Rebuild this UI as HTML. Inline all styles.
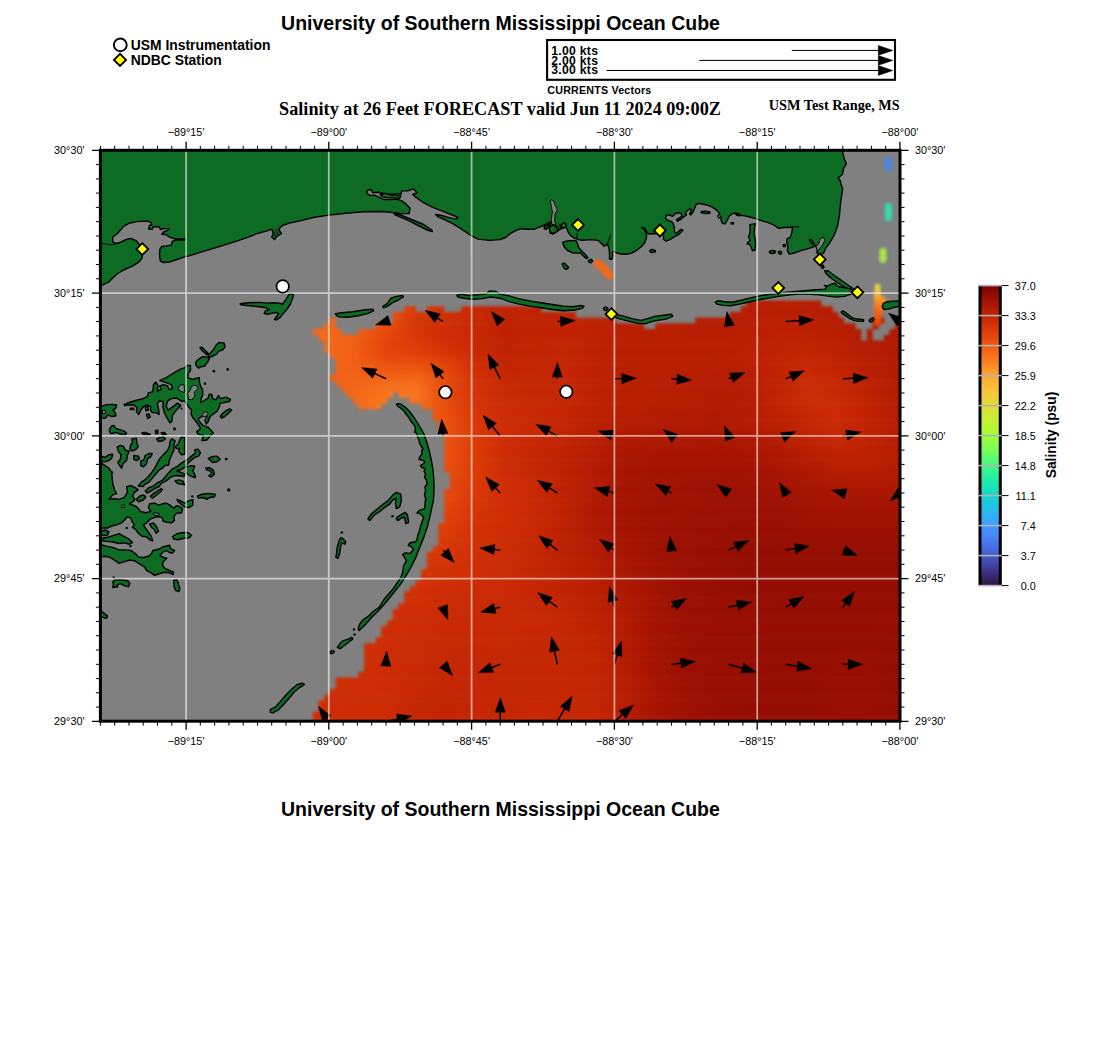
<!DOCTYPE html>
<html lang="en"><head><meta charset="utf-8"><title>University of Southern Mississippi Ocean Cube</title>
<style>
html,body{margin:0;padding:0;background:#fff;}
body{width:1100px;height:1050px;overflow:hidden;position:relative;font-family:"Liberation Sans",sans-serif;}
svg{position:absolute;left:0;top:0;}
text{font-family:"Liberation Sans",sans-serif;fill:#000;}
.b{font-weight:bold;}
.t{font-family:"Liberation Serif",serif;font-weight:bold;}
.tk{font-size:10.8px;}
</style></head><body>
<svg width="1100" height="1050" viewBox="0 0 1100 1050">
<defs>
<clipPath id="mapclip"><rect x="100.4" y="150.3" width="799.6" height="570.9"/></clipPath>
<filter id="blur2" x="-5%" y="-5%" width="110%" height="110%" color-interpolation-filters="sRGB"><feGaussianBlur stdDeviation="1.7"/></filter>
<filter id="blurs" x="-40%" y="-40%" width="180%" height="180%" color-interpolation-filters="sRGB"><feGaussianBlur stdDeviation="1.6"/></filter>
<filter id="blur4" x="-30%" y="-30%" width="160%" height="160%"><feGaussianBlur stdDeviation="3"/></filter>
<filter id="vblur" filterUnits="userSpaceOnUse" x="280" y="260" width="640" height="500" color-interpolation-filters="sRGB"><feGaussianBlur stdDeviation="0 4.5"/></filter>
<filter id="blur1" x="-10%" y="-10%" width="120%" height="120%"><feGaussianBlur stdDeviation="0.45"/></filter>

<mask id="hm" maskUnits="userSpaceOnUse" x="90" y="140" width="830" height="600"><g fill="#fff" filter="url(#blur2)"><rect x="746.7" y="300.5" width="74.5" height="6.0"/><rect x="404.1" y="306.2" width="11.7" height="6.0"/><rect x="426.9" y="306.2" width="17.4" height="6.0"/><rect x="461.2" y="306.2" width="80.3" height="6.0"/><rect x="741.0" y="306.2" width="91.7" height="6.0"/><rect x="392.7" y="311.9" width="183.1" height="6.0"/><rect x="729.6" y="311.9" width="108.8" height="6.0"/><rect x="329.8" y="317.6" width="6.0" height="6.0"/><rect x="392.7" y="317.6" width="223.0" height="6.0"/><rect x="695.3" y="317.6" width="148.8" height="6.0"/><rect x="872.4" y="317.6" width="11.7" height="6.0"/><rect x="324.1" y="323.3" width="11.7" height="6.0"/><rect x="375.5" y="323.3" width="268.7" height="6.0"/><rect x="655.4" y="323.3" width="200.2" height="6.0"/><rect x="872.4" y="323.3" width="6.0" height="6.0"/><rect x="895.2" y="323.3" width="6.0" height="6.0"/><rect x="312.7" y="329.0" width="28.9" height="6.0"/><rect x="358.4" y="329.0" width="502.9" height="6.0"/><rect x="866.7" y="329.0" width="6.0" height="6.0"/><rect x="889.5" y="329.0" width="11.7" height="6.0"/><rect x="318.4" y="334.8" width="542.8" height="6.0"/><rect x="866.7" y="334.8" width="6.0" height="6.0"/><rect x="883.8" y="334.8" width="17.4" height="6.0"/><rect x="324.1" y="340.5" width="577.1" height="6.0"/><rect x="324.1" y="346.2" width="577.1" height="6.0"/><rect x="329.8" y="351.9" width="571.4" height="6.0"/><rect x="335.6" y="357.6" width="565.7" height="6.0"/><rect x="335.6" y="363.3" width="565.7" height="6.0"/><rect x="335.6" y="369.0" width="565.7" height="6.0"/><rect x="329.8" y="374.7" width="571.4" height="6.0"/><rect x="335.6" y="380.4" width="565.7" height="6.0"/><rect x="341.3" y="386.2" width="560.0" height="6.0"/><rect x="347.0" y="391.9" width="46.0" height="6.0"/><rect x="398.4" y="391.9" width="502.9" height="6.0"/><rect x="352.7" y="397.6" width="34.6" height="6.0"/><rect x="409.8" y="397.6" width="491.4" height="6.0"/><rect x="358.4" y="403.3" width="23.1" height="6.0"/><rect x="421.2" y="403.3" width="480.0" height="6.0"/><rect x="432.6" y="409.0" width="468.6" height="6.0"/><rect x="432.6" y="414.7" width="468.6" height="6.0"/><rect x="438.3" y="420.4" width="462.9" height="6.0"/><rect x="438.3" y="426.1" width="462.9" height="6.0"/><rect x="444.1" y="431.8" width="457.2" height="6.0"/><rect x="444.1" y="437.6" width="457.2" height="6.0"/><rect x="444.1" y="443.3" width="457.2" height="6.0"/><rect x="444.1" y="449.0" width="457.2" height="6.0"/><rect x="444.1" y="454.7" width="457.2" height="6.0"/><rect x="444.1" y="460.4" width="457.2" height="6.0"/><rect x="444.1" y="466.1" width="457.2" height="6.0"/><rect x="449.8" y="471.8" width="451.5" height="6.0"/><rect x="449.8" y="477.5" width="451.5" height="6.0"/><rect x="449.8" y="483.2" width="451.5" height="6.0"/><rect x="444.1" y="488.9" width="457.2" height="6.0"/><rect x="444.1" y="494.7" width="457.2" height="6.0"/><rect x="444.1" y="500.4" width="457.2" height="6.0"/><rect x="444.1" y="506.1" width="457.2" height="6.0"/><rect x="444.1" y="511.8" width="457.2" height="6.0"/><rect x="444.1" y="517.5" width="457.2" height="6.0"/><rect x="438.3" y="523.2" width="462.9" height="6.0"/><rect x="438.3" y="528.9" width="462.9" height="6.0"/><rect x="438.3" y="534.6" width="462.9" height="6.0"/><rect x="438.3" y="540.3" width="462.9" height="6.0"/><rect x="432.6" y="546.1" width="468.6" height="6.0"/><rect x="426.9" y="551.8" width="474.3" height="6.0"/><rect x="426.9" y="557.5" width="474.3" height="6.0"/><rect x="426.9" y="563.2" width="474.3" height="6.0"/><rect x="421.2" y="568.9" width="480.0" height="6.0"/><rect x="421.2" y="574.6" width="480.0" height="6.0"/><rect x="415.5" y="580.3" width="485.7" height="6.0"/><rect x="409.8" y="586.0" width="491.4" height="6.0"/><rect x="404.1" y="591.7" width="497.2" height="6.0"/><rect x="404.1" y="597.5" width="497.2" height="6.0"/><rect x="398.4" y="603.2" width="502.9" height="6.0"/><rect x="392.7" y="608.9" width="508.6" height="6.0"/><rect x="392.7" y="614.6" width="508.6" height="6.0"/><rect x="387.0" y="620.3" width="514.3" height="6.0"/><rect x="381.2" y="626.0" width="520.0" height="6.0"/><rect x="381.2" y="631.7" width="520.0" height="6.0"/><rect x="375.5" y="637.4" width="525.7" height="6.0"/><rect x="364.1" y="643.1" width="537.1" height="6.0"/><rect x="364.1" y="648.9" width="537.1" height="6.0"/><rect x="364.1" y="654.6" width="537.1" height="6.0"/><rect x="364.1" y="660.3" width="537.1" height="6.0"/><rect x="364.1" y="666.0" width="537.1" height="6.0"/><rect x="358.4" y="671.7" width="542.8" height="6.0"/><rect x="335.6" y="677.4" width="565.7" height="6.0"/><rect x="335.6" y="683.1" width="565.7" height="6.0"/><rect x="329.8" y="688.8" width="571.4" height="6.0"/><rect x="324.1" y="694.5" width="577.1" height="6.0"/><rect x="318.4" y="700.3" width="582.8" height="6.0"/><rect x="318.4" y="706.0" width="582.8" height="6.0"/><rect x="312.7" y="711.7" width="588.5" height="6.0"/><rect x="312.7" y="717.4" width="588.5" height="6.0"/></g></mask>

<linearGradient id="cbar" x1="0" y1="1" x2="0" y2="0"><stop offset="0.000" stop-color="#30123b"/><stop offset="0.025" stop-color="#372466"/><stop offset="0.050" stop-color="#3d358b"/><stop offset="0.075" stop-color="#4249b1"/><stop offset="0.100" stop-color="#4559cb"/><stop offset="0.125" stop-color="#466be3"/><stop offset="0.150" stop-color="#477bf2"/><stop offset="0.175" stop-color="#458afc"/><stop offset="0.200" stop-color="#3e9bfe"/><stop offset="0.225" stop-color="#35abf8"/><stop offset="0.250" stop-color="#28bceb"/><stop offset="0.275" stop-color="#1fc9dd"/><stop offset="0.300" stop-color="#19d5cd"/><stop offset="0.325" stop-color="#19e2bb"/><stop offset="0.350" stop-color="#20eaac"/><stop offset="0.375" stop-color="#32f298"/><stop offset="0.400" stop-color="#46f884"/><stop offset="0.425" stop-color="#5dfc6f"/><stop offset="0.450" stop-color="#79fe59"/><stop offset="0.475" stop-color="#8fff49"/><stop offset="0.500" stop-color="#a4fc3c"/><stop offset="0.525" stop-color="#b4f836"/><stop offset="0.550" stop-color="#c3f134"/><stop offset="0.575" stop-color="#d4e735"/><stop offset="0.600" stop-color="#e1dd37"/><stop offset="0.625" stop-color="#eecf3a"/><stop offset="0.650" stop-color="#f6c33a"/><stop offset="0.675" stop-color="#fbb637"/><stop offset="0.700" stop-color="#fea431"/><stop offset="0.725" stop-color="#fe932a"/><stop offset="0.750" stop-color="#fb7e21"/><stop offset="0.775" stop-color="#f66c19"/><stop offset="0.800" stop-color="#f05b12"/><stop offset="0.825" stop-color="#e7490c"/><stop offset="0.850" stop-color="#dd3d08"/><stop offset="0.875" stop-color="#d02f05"/><stop offset="0.900" stop-color="#c32503"/><stop offset="0.925" stop-color="#b41b01"/><stop offset="0.950" stop-color="#a11201"/><stop offset="0.975" stop-color="#8e0a01"/><stop offset="1.000" stop-color="#7a0403"/></linearGradient>
<linearGradient id="hr0" gradientUnits="userSpaceOnUse" x1="296" y1="0" x2="906" y2="0"><stop offset="0.000" stop-color="#f26014"/><stop offset="0.049" stop-color="#f15d13"/><stop offset="0.098" stop-color="#f15d13"/><stop offset="0.148" stop-color="#ec530f"/><stop offset="0.197" stop-color="#df3f08"/><stop offset="0.246" stop-color="#d43305"/><stop offset="0.295" stop-color="#cc2b04"/><stop offset="0.344" stop-color="#c52603"/><stop offset="0.393" stop-color="#c32503"/><stop offset="0.443" stop-color="#c12302"/><stop offset="0.492" stop-color="#be2102"/><stop offset="0.541" stop-color="#b91e02"/><stop offset="0.590" stop-color="#b71d02"/><stop offset="0.639" stop-color="#b71d02"/><stop offset="0.689" stop-color="#b71d02"/><stop offset="0.738" stop-color="#b71d02"/><stop offset="0.787" stop-color="#b91e02"/><stop offset="0.836" stop-color="#b91e02"/><stop offset="0.885" stop-color="#b41b01"/><stop offset="0.934" stop-color="#b21a01"/><stop offset="0.984" stop-color="#af1801"/><stop offset="1.000" stop-color="#af1801"/></linearGradient>
<linearGradient id="hr1" gradientUnits="userSpaceOnUse" x1="296" y1="0" x2="906" y2="0"><stop offset="0.000" stop-color="#f26014"/><stop offset="0.049" stop-color="#f26014"/><stop offset="0.098" stop-color="#f26014"/><stop offset="0.148" stop-color="#ec530f"/><stop offset="0.197" stop-color="#df3f08"/><stop offset="0.246" stop-color="#d43305"/><stop offset="0.295" stop-color="#ca2a04"/><stop offset="0.344" stop-color="#c32503"/><stop offset="0.393" stop-color="#c12302"/><stop offset="0.443" stop-color="#c12302"/><stop offset="0.492" stop-color="#bc2002"/><stop offset="0.541" stop-color="#b91e02"/><stop offset="0.590" stop-color="#b71d02"/><stop offset="0.639" stop-color="#b71d02"/><stop offset="0.689" stop-color="#b71d02"/><stop offset="0.738" stop-color="#b71d02"/><stop offset="0.787" stop-color="#b91e02"/><stop offset="0.836" stop-color="#b91e02"/><stop offset="0.885" stop-color="#b41b01"/><stop offset="0.934" stop-color="#af1801"/><stop offset="0.984" stop-color="#af1801"/><stop offset="1.000" stop-color="#af1801"/></linearGradient>
<linearGradient id="hr2" gradientUnits="userSpaceOnUse" x1="296" y1="0" x2="906" y2="0"><stop offset="0.000" stop-color="#f26014"/><stop offset="0.049" stop-color="#f26014"/><stop offset="0.098" stop-color="#f26014"/><stop offset="0.148" stop-color="#ed5510"/><stop offset="0.197" stop-color="#dc3b07"/><stop offset="0.246" stop-color="#d23105"/><stop offset="0.295" stop-color="#ca2a04"/><stop offset="0.344" stop-color="#c32503"/><stop offset="0.393" stop-color="#c12302"/><stop offset="0.443" stop-color="#c12302"/><stop offset="0.492" stop-color="#bc2002"/><stop offset="0.541" stop-color="#b91e02"/><stop offset="0.590" stop-color="#b71d02"/><stop offset="0.639" stop-color="#b71d02"/><stop offset="0.689" stop-color="#b71d02"/><stop offset="0.738" stop-color="#b71d02"/><stop offset="0.787" stop-color="#b91e02"/><stop offset="0.836" stop-color="#b91e02"/><stop offset="0.885" stop-color="#b41b01"/><stop offset="0.934" stop-color="#af1801"/><stop offset="0.984" stop-color="#af1801"/><stop offset="1.000" stop-color="#af1801"/></linearGradient>
<linearGradient id="hr3" gradientUnits="userSpaceOnUse" x1="296" y1="0" x2="906" y2="0"><stop offset="0.000" stop-color="#f36315"/><stop offset="0.049" stop-color="#f36315"/><stop offset="0.098" stop-color="#f36315"/><stop offset="0.148" stop-color="#ed5510"/><stop offset="0.197" stop-color="#da3907"/><stop offset="0.246" stop-color="#d23105"/><stop offset="0.295" stop-color="#c82803"/><stop offset="0.344" stop-color="#c12302"/><stop offset="0.393" stop-color="#c12302"/><stop offset="0.443" stop-color="#c12302"/><stop offset="0.492" stop-color="#bc2002"/><stop offset="0.541" stop-color="#b91e02"/><stop offset="0.590" stop-color="#b71d02"/><stop offset="0.639" stop-color="#b71d02"/><stop offset="0.689" stop-color="#b71d02"/><stop offset="0.738" stop-color="#b71d02"/><stop offset="0.787" stop-color="#b91e02"/><stop offset="0.836" stop-color="#b91e02"/><stop offset="0.885" stop-color="#b41b01"/><stop offset="0.934" stop-color="#af1801"/><stop offset="0.984" stop-color="#af1801"/><stop offset="1.000" stop-color="#af1801"/></linearGradient>
<linearGradient id="hr4" gradientUnits="userSpaceOnUse" x1="296" y1="0" x2="906" y2="0"><stop offset="0.000" stop-color="#f46617"/><stop offset="0.049" stop-color="#f46617"/><stop offset="0.098" stop-color="#f26014"/><stop offset="0.148" stop-color="#ed5510"/><stop offset="0.197" stop-color="#d83706"/><stop offset="0.246" stop-color="#d02f05"/><stop offset="0.295" stop-color="#c82803"/><stop offset="0.344" stop-color="#c12302"/><stop offset="0.393" stop-color="#c12302"/><stop offset="0.443" stop-color="#c12302"/><stop offset="0.492" stop-color="#bc2002"/><stop offset="0.541" stop-color="#b91e02"/><stop offset="0.590" stop-color="#b71d02"/><stop offset="0.639" stop-color="#b71d02"/><stop offset="0.689" stop-color="#b71d02"/><stop offset="0.738" stop-color="#b71d02"/><stop offset="0.787" stop-color="#b91e02"/><stop offset="0.836" stop-color="#b91e02"/><stop offset="0.885" stop-color="#b41b01"/><stop offset="0.934" stop-color="#af1801"/><stop offset="0.984" stop-color="#af1801"/><stop offset="1.000" stop-color="#af1801"/></linearGradient>
<linearGradient id="hr5" gradientUnits="userSpaceOnUse" x1="296" y1="0" x2="906" y2="0"><stop offset="0.000" stop-color="#f56918"/><stop offset="0.049" stop-color="#f46617"/><stop offset="0.098" stop-color="#f26014"/><stop offset="0.148" stop-color="#eb500e"/><stop offset="0.197" stop-color="#d63506"/><stop offset="0.246" stop-color="#d02f05"/><stop offset="0.295" stop-color="#c82803"/><stop offset="0.344" stop-color="#be2102"/><stop offset="0.393" stop-color="#c12302"/><stop offset="0.443" stop-color="#c12302"/><stop offset="0.492" stop-color="#be2102"/><stop offset="0.541" stop-color="#b91e02"/><stop offset="0.590" stop-color="#b71d02"/><stop offset="0.639" stop-color="#b71d02"/><stop offset="0.689" stop-color="#b71d02"/><stop offset="0.738" stop-color="#b71d02"/><stop offset="0.787" stop-color="#bc2002"/><stop offset="0.836" stop-color="#b91e02"/><stop offset="0.885" stop-color="#b71d02"/><stop offset="0.934" stop-color="#af1801"/><stop offset="0.984" stop-color="#af1801"/><stop offset="1.000" stop-color="#af1801"/></linearGradient>
<linearGradient id="hr6" gradientUnits="userSpaceOnUse" x1="296" y1="0" x2="906" y2="0"><stop offset="0.000" stop-color="#f56918"/><stop offset="0.049" stop-color="#f56918"/><stop offset="0.098" stop-color="#f26014"/><stop offset="0.148" stop-color="#e84b0c"/><stop offset="0.197" stop-color="#d63506"/><stop offset="0.246" stop-color="#ce2d04"/><stop offset="0.295" stop-color="#c82803"/><stop offset="0.344" stop-color="#be2102"/><stop offset="0.393" stop-color="#c12302"/><stop offset="0.443" stop-color="#c12302"/><stop offset="0.492" stop-color="#be2102"/><stop offset="0.541" stop-color="#b91e02"/><stop offset="0.590" stop-color="#b91e02"/><stop offset="0.639" stop-color="#b71d02"/><stop offset="0.689" stop-color="#b71d02"/><stop offset="0.738" stop-color="#b91e02"/><stop offset="0.787" stop-color="#bc2002"/><stop offset="0.836" stop-color="#bc2002"/><stop offset="0.885" stop-color="#b71d02"/><stop offset="0.934" stop-color="#b21a01"/><stop offset="0.984" stop-color="#af1801"/><stop offset="1.000" stop-color="#af1801"/></linearGradient>
<linearGradient id="hr7" gradientUnits="userSpaceOnUse" x1="296" y1="0" x2="906" y2="0"><stop offset="0.000" stop-color="#f56918"/><stop offset="0.049" stop-color="#f56918"/><stop offset="0.098" stop-color="#f15d13"/><stop offset="0.148" stop-color="#e5470b"/><stop offset="0.197" stop-color="#d83706"/><stop offset="0.246" stop-color="#ce2d04"/><stop offset="0.295" stop-color="#c82803"/><stop offset="0.344" stop-color="#be2102"/><stop offset="0.393" stop-color="#c12302"/><stop offset="0.443" stop-color="#c12302"/><stop offset="0.492" stop-color="#be2102"/><stop offset="0.541" stop-color="#b91e02"/><stop offset="0.590" stop-color="#b91e02"/><stop offset="0.639" stop-color="#b91e02"/><stop offset="0.689" stop-color="#b71d02"/><stop offset="0.738" stop-color="#b91e02"/><stop offset="0.787" stop-color="#be2102"/><stop offset="0.836" stop-color="#be2102"/><stop offset="0.885" stop-color="#b91e02"/><stop offset="0.934" stop-color="#b21a01"/><stop offset="0.984" stop-color="#af1801"/><stop offset="1.000" stop-color="#af1801"/></linearGradient>
<linearGradient id="hr8" gradientUnits="userSpaceOnUse" x1="296" y1="0" x2="906" y2="0"><stop offset="0.000" stop-color="#f56918"/><stop offset="0.049" stop-color="#f56918"/><stop offset="0.098" stop-color="#f15d13"/><stop offset="0.148" stop-color="#e2430a"/><stop offset="0.197" stop-color="#dc3b07"/><stop offset="0.246" stop-color="#d02f05"/><stop offset="0.295" stop-color="#c82803"/><stop offset="0.344" stop-color="#be2102"/><stop offset="0.393" stop-color="#c12302"/><stop offset="0.443" stop-color="#c32503"/><stop offset="0.492" stop-color="#be2102"/><stop offset="0.541" stop-color="#b91e02"/><stop offset="0.590" stop-color="#b91e02"/><stop offset="0.639" stop-color="#b91e02"/><stop offset="0.689" stop-color="#b91e02"/><stop offset="0.738" stop-color="#b91e02"/><stop offset="0.787" stop-color="#be2102"/><stop offset="0.836" stop-color="#c12302"/><stop offset="0.885" stop-color="#bc2002"/><stop offset="0.934" stop-color="#b41b01"/><stop offset="0.984" stop-color="#b21a01"/><stop offset="1.000" stop-color="#af1801"/></linearGradient>
<linearGradient id="hr9" gradientUnits="userSpaceOnUse" x1="296" y1="0" x2="906" y2="0"><stop offset="0.000" stop-color="#f46617"/><stop offset="0.049" stop-color="#f56918"/><stop offset="0.098" stop-color="#f15d13"/><stop offset="0.148" stop-color="#e4450a"/><stop offset="0.197" stop-color="#e14109"/><stop offset="0.246" stop-color="#d63506"/><stop offset="0.295" stop-color="#ca2a04"/><stop offset="0.344" stop-color="#c12302"/><stop offset="0.393" stop-color="#c12302"/><stop offset="0.443" stop-color="#c32503"/><stop offset="0.492" stop-color="#be2102"/><stop offset="0.541" stop-color="#b91e02"/><stop offset="0.590" stop-color="#b91e02"/><stop offset="0.639" stop-color="#b91e02"/><stop offset="0.689" stop-color="#b71d02"/><stop offset="0.738" stop-color="#bc2002"/><stop offset="0.787" stop-color="#c12302"/><stop offset="0.836" stop-color="#c32503"/><stop offset="0.885" stop-color="#be2102"/><stop offset="0.934" stop-color="#b71d02"/><stop offset="0.984" stop-color="#b21a01"/><stop offset="1.000" stop-color="#af1801"/></linearGradient>
<linearGradient id="hr10" gradientUnits="userSpaceOnUse" x1="296" y1="0" x2="906" y2="0"><stop offset="0.000" stop-color="#f36315"/><stop offset="0.049" stop-color="#f46617"/><stop offset="0.098" stop-color="#f15d13"/><stop offset="0.148" stop-color="#ea4e0d"/><stop offset="0.197" stop-color="#e84b0c"/><stop offset="0.246" stop-color="#df3f08"/><stop offset="0.295" stop-color="#ce2d04"/><stop offset="0.344" stop-color="#c12302"/><stop offset="0.393" stop-color="#c32503"/><stop offset="0.443" stop-color="#c32503"/><stop offset="0.492" stop-color="#be2102"/><stop offset="0.541" stop-color="#b91e02"/><stop offset="0.590" stop-color="#b91e02"/><stop offset="0.639" stop-color="#b91e02"/><stop offset="0.689" stop-color="#b71d02"/><stop offset="0.738" stop-color="#b91e02"/><stop offset="0.787" stop-color="#c12302"/><stop offset="0.836" stop-color="#c52603"/><stop offset="0.885" stop-color="#c12302"/><stop offset="0.934" stop-color="#b91e02"/><stop offset="0.984" stop-color="#b21a01"/><stop offset="1.000" stop-color="#af1801"/></linearGradient>
<linearGradient id="hr11" gradientUnits="userSpaceOnUse" x1="296" y1="0" x2="906" y2="0"><stop offset="0.000" stop-color="#f26014"/><stop offset="0.049" stop-color="#f26014"/><stop offset="0.098" stop-color="#f26014"/><stop offset="0.148" stop-color="#ef5811"/><stop offset="0.197" stop-color="#ef5811"/><stop offset="0.246" stop-color="#e5470b"/><stop offset="0.295" stop-color="#d02f05"/><stop offset="0.344" stop-color="#c32503"/><stop offset="0.393" stop-color="#c32503"/><stop offset="0.443" stop-color="#c52603"/><stop offset="0.492" stop-color="#be2102"/><stop offset="0.541" stop-color="#b91e02"/><stop offset="0.590" stop-color="#b91e02"/><stop offset="0.639" stop-color="#b91e02"/><stop offset="0.689" stop-color="#b71d02"/><stop offset="0.738" stop-color="#b91e02"/><stop offset="0.787" stop-color="#c12302"/><stop offset="0.836" stop-color="#c82803"/><stop offset="0.885" stop-color="#c32503"/><stop offset="0.934" stop-color="#b91e02"/><stop offset="0.984" stop-color="#b21a01"/><stop offset="1.000" stop-color="#b21a01"/></linearGradient>
<linearGradient id="hr12" gradientUnits="userSpaceOnUse" x1="296" y1="0" x2="906" y2="0"><stop offset="0.000" stop-color="#f15d13"/><stop offset="0.049" stop-color="#f15d13"/><stop offset="0.098" stop-color="#f36315"/><stop offset="0.148" stop-color="#f36315"/><stop offset="0.197" stop-color="#f46617"/><stop offset="0.246" stop-color="#e84b0c"/><stop offset="0.295" stop-color="#d23105"/><stop offset="0.344" stop-color="#c52603"/><stop offset="0.393" stop-color="#c52603"/><stop offset="0.443" stop-color="#c52603"/><stop offset="0.492" stop-color="#be2102"/><stop offset="0.541" stop-color="#b91e02"/><stop offset="0.590" stop-color="#b91e02"/><stop offset="0.639" stop-color="#b71d02"/><stop offset="0.689" stop-color="#b41b01"/><stop offset="0.738" stop-color="#b71d02"/><stop offset="0.787" stop-color="#c12302"/><stop offset="0.836" stop-color="#ca2a04"/><stop offset="0.885" stop-color="#c52603"/><stop offset="0.934" stop-color="#bc2002"/><stop offset="0.984" stop-color="#b41b01"/><stop offset="1.000" stop-color="#b21a01"/></linearGradient>
<linearGradient id="hr13" gradientUnits="userSpaceOnUse" x1="296" y1="0" x2="906" y2="0"><stop offset="0.000" stop-color="#f05b12"/><stop offset="0.049" stop-color="#f05b12"/><stop offset="0.098" stop-color="#f46617"/><stop offset="0.148" stop-color="#f76f1a"/><stop offset="0.197" stop-color="#f76f1a"/><stop offset="0.246" stop-color="#e7490c"/><stop offset="0.295" stop-color="#d43305"/><stop offset="0.344" stop-color="#c82803"/><stop offset="0.393" stop-color="#c52603"/><stop offset="0.443" stop-color="#c52603"/><stop offset="0.492" stop-color="#be2102"/><stop offset="0.541" stop-color="#b91e02"/><stop offset="0.590" stop-color="#b71d02"/><stop offset="0.639" stop-color="#b71d02"/><stop offset="0.689" stop-color="#b41b01"/><stop offset="0.738" stop-color="#b71d02"/><stop offset="0.787" stop-color="#c12302"/><stop offset="0.836" stop-color="#ca2a04"/><stop offset="0.885" stop-color="#c82803"/><stop offset="0.934" stop-color="#be2102"/><stop offset="0.984" stop-color="#b41b01"/><stop offset="1.000" stop-color="#b21a01"/></linearGradient>
<linearGradient id="hr14" gradientUnits="userSpaceOnUse" x1="296" y1="0" x2="906" y2="0"><stop offset="0.000" stop-color="#f05b12"/><stop offset="0.049" stop-color="#ef5811"/><stop offset="0.098" stop-color="#f56918"/><stop offset="0.148" stop-color="#f9751d"/><stop offset="0.197" stop-color="#f9751d"/><stop offset="0.246" stop-color="#e7490c"/><stop offset="0.295" stop-color="#d43305"/><stop offset="0.344" stop-color="#c82803"/><stop offset="0.393" stop-color="#c52603"/><stop offset="0.443" stop-color="#c52603"/><stop offset="0.492" stop-color="#be2102"/><stop offset="0.541" stop-color="#b91e02"/><stop offset="0.590" stop-color="#b71d02"/><stop offset="0.639" stop-color="#b71d02"/><stop offset="0.689" stop-color="#b41b01"/><stop offset="0.738" stop-color="#b41b01"/><stop offset="0.787" stop-color="#c12302"/><stop offset="0.836" stop-color="#ca2a04"/><stop offset="0.885" stop-color="#c82803"/><stop offset="0.934" stop-color="#be2102"/><stop offset="0.984" stop-color="#b41b01"/><stop offset="1.000" stop-color="#b21a01"/></linearGradient>
<linearGradient id="hr15" gradientUnits="userSpaceOnUse" x1="296" y1="0" x2="906" y2="0"><stop offset="0.000" stop-color="#ef5811"/><stop offset="0.049" stop-color="#ef5811"/><stop offset="0.098" stop-color="#f56918"/><stop offset="0.148" stop-color="#f9781e"/><stop offset="0.197" stop-color="#f8721c"/><stop offset="0.246" stop-color="#e84b0c"/><stop offset="0.295" stop-color="#d63506"/><stop offset="0.344" stop-color="#ca2a04"/><stop offset="0.393" stop-color="#c82803"/><stop offset="0.443" stop-color="#c52603"/><stop offset="0.492" stop-color="#be2102"/><stop offset="0.541" stop-color="#b71d02"/><stop offset="0.590" stop-color="#b71d02"/><stop offset="0.639" stop-color="#b41b01"/><stop offset="0.689" stop-color="#b21a01"/><stop offset="0.738" stop-color="#b41b01"/><stop offset="0.787" stop-color="#c12302"/><stop offset="0.836" stop-color="#ca2a04"/><stop offset="0.885" stop-color="#ca2a04"/><stop offset="0.934" stop-color="#c12302"/><stop offset="0.984" stop-color="#b71d02"/><stop offset="1.000" stop-color="#b41b01"/></linearGradient>
<linearGradient id="hr16" gradientUnits="userSpaceOnUse" x1="296" y1="0" x2="906" y2="0"><stop offset="0.000" stop-color="#ed5510"/><stop offset="0.049" stop-color="#ef5811"/><stop offset="0.098" stop-color="#f56918"/><stop offset="0.148" stop-color="#f9751d"/><stop offset="0.197" stop-color="#f66c19"/><stop offset="0.246" stop-color="#ea4e0d"/><stop offset="0.295" stop-color="#d63506"/><stop offset="0.344" stop-color="#ca2a04"/><stop offset="0.393" stop-color="#c82803"/><stop offset="0.443" stop-color="#c32503"/><stop offset="0.492" stop-color="#be2102"/><stop offset="0.541" stop-color="#b71d02"/><stop offset="0.590" stop-color="#b41b01"/><stop offset="0.639" stop-color="#b41b01"/><stop offset="0.689" stop-color="#b21a01"/><stop offset="0.738" stop-color="#b41b01"/><stop offset="0.787" stop-color="#be2102"/><stop offset="0.836" stop-color="#c82803"/><stop offset="0.885" stop-color="#ca2a04"/><stop offset="0.934" stop-color="#c12302"/><stop offset="0.984" stop-color="#b71d02"/><stop offset="1.000" stop-color="#b41b01"/></linearGradient>
<linearGradient id="hr17" gradientUnits="userSpaceOnUse" x1="296" y1="0" x2="906" y2="0"><stop offset="0.000" stop-color="#ed5510"/><stop offset="0.049" stop-color="#f05b12"/><stop offset="0.098" stop-color="#f56918"/><stop offset="0.148" stop-color="#f8721c"/><stop offset="0.197" stop-color="#f46617"/><stop offset="0.246" stop-color="#eb500e"/><stop offset="0.295" stop-color="#d83706"/><stop offset="0.344" stop-color="#ca2a04"/><stop offset="0.393" stop-color="#c82803"/><stop offset="0.443" stop-color="#c32503"/><stop offset="0.492" stop-color="#bc2002"/><stop offset="0.541" stop-color="#b41b01"/><stop offset="0.590" stop-color="#b41b01"/><stop offset="0.639" stop-color="#b21a01"/><stop offset="0.689" stop-color="#af1801"/><stop offset="0.738" stop-color="#b41b01"/><stop offset="0.787" stop-color="#bc2002"/><stop offset="0.836" stop-color="#c52603"/><stop offset="0.885" stop-color="#ca2a04"/><stop offset="0.934" stop-color="#c12302"/><stop offset="0.984" stop-color="#b71d02"/><stop offset="1.000" stop-color="#b41b01"/></linearGradient>
<linearGradient id="hr18" gradientUnits="userSpaceOnUse" x1="296" y1="0" x2="906" y2="0"><stop offset="0.000" stop-color="#ed5510"/><stop offset="0.049" stop-color="#ef5811"/><stop offset="0.098" stop-color="#f46617"/><stop offset="0.148" stop-color="#f66c19"/><stop offset="0.197" stop-color="#f15d13"/><stop offset="0.246" stop-color="#ec530f"/><stop offset="0.295" stop-color="#d83706"/><stop offset="0.344" stop-color="#cc2b04"/><stop offset="0.393" stop-color="#c82803"/><stop offset="0.443" stop-color="#c32503"/><stop offset="0.492" stop-color="#b91e02"/><stop offset="0.541" stop-color="#b41b01"/><stop offset="0.590" stop-color="#b21a01"/><stop offset="0.639" stop-color="#b21a01"/><stop offset="0.689" stop-color="#af1801"/><stop offset="0.738" stop-color="#b21a01"/><stop offset="0.787" stop-color="#b91e02"/><stop offset="0.836" stop-color="#c32503"/><stop offset="0.885" stop-color="#ca2a04"/><stop offset="0.934" stop-color="#c12302"/><stop offset="0.984" stop-color="#b71d02"/><stop offset="1.000" stop-color="#b41b01"/></linearGradient>
<linearGradient id="hr19" gradientUnits="userSpaceOnUse" x1="296" y1="0" x2="906" y2="0"><stop offset="0.000" stop-color="#ec530f"/><stop offset="0.049" stop-color="#ef5811"/><stop offset="0.098" stop-color="#f36315"/><stop offset="0.148" stop-color="#f46617"/><stop offset="0.197" stop-color="#f05b12"/><stop offset="0.246" stop-color="#ec530f"/><stop offset="0.295" stop-color="#da3907"/><stop offset="0.344" stop-color="#cc2b04"/><stop offset="0.393" stop-color="#c82803"/><stop offset="0.443" stop-color="#c12302"/><stop offset="0.492" stop-color="#b91e02"/><stop offset="0.541" stop-color="#b21a01"/><stop offset="0.590" stop-color="#af1801"/><stop offset="0.639" stop-color="#af1801"/><stop offset="0.689" stop-color="#ac1701"/><stop offset="0.738" stop-color="#af1801"/><stop offset="0.787" stop-color="#b71d02"/><stop offset="0.836" stop-color="#c12302"/><stop offset="0.885" stop-color="#c82803"/><stop offset="0.934" stop-color="#c12302"/><stop offset="0.984" stop-color="#b71d02"/><stop offset="1.000" stop-color="#b41b01"/></linearGradient>
<linearGradient id="hr20" gradientUnits="userSpaceOnUse" x1="296" y1="0" x2="906" y2="0"><stop offset="0.000" stop-color="#ec530f"/><stop offset="0.049" stop-color="#ef5811"/><stop offset="0.098" stop-color="#f26014"/><stop offset="0.148" stop-color="#f36315"/><stop offset="0.197" stop-color="#ef5811"/><stop offset="0.246" stop-color="#ec530f"/><stop offset="0.295" stop-color="#dc3b07"/><stop offset="0.344" stop-color="#cc2b04"/><stop offset="0.393" stop-color="#c52603"/><stop offset="0.443" stop-color="#c12302"/><stop offset="0.492" stop-color="#b71d02"/><stop offset="0.541" stop-color="#af1801"/><stop offset="0.590" stop-color="#ac1701"/><stop offset="0.639" stop-color="#ac1701"/><stop offset="0.689" stop-color="#a91601"/><stop offset="0.738" stop-color="#ac1701"/><stop offset="0.787" stop-color="#b41b01"/><stop offset="0.836" stop-color="#be2102"/><stop offset="0.885" stop-color="#c52603"/><stop offset="0.934" stop-color="#c12302"/><stop offset="0.984" stop-color="#b71d02"/><stop offset="1.000" stop-color="#b41b01"/></linearGradient>
<linearGradient id="hr21" gradientUnits="userSpaceOnUse" x1="296" y1="0" x2="906" y2="0"><stop offset="0.000" stop-color="#ec530f"/><stop offset="0.049" stop-color="#ed5510"/><stop offset="0.098" stop-color="#f15d13"/><stop offset="0.148" stop-color="#f15d13"/><stop offset="0.197" stop-color="#ef5811"/><stop offset="0.246" stop-color="#ec530f"/><stop offset="0.295" stop-color="#dc3b07"/><stop offset="0.344" stop-color="#cc2b04"/><stop offset="0.393" stop-color="#c52603"/><stop offset="0.443" stop-color="#c12302"/><stop offset="0.492" stop-color="#b71d02"/><stop offset="0.541" stop-color="#ac1701"/><stop offset="0.590" stop-color="#a91601"/><stop offset="0.639" stop-color="#a91601"/><stop offset="0.689" stop-color="#a71401"/><stop offset="0.738" stop-color="#a91601"/><stop offset="0.787" stop-color="#af1801"/><stop offset="0.836" stop-color="#b91e02"/><stop offset="0.885" stop-color="#c12302"/><stop offset="0.934" stop-color="#be2102"/><stop offset="0.984" stop-color="#b71d02"/><stop offset="1.000" stop-color="#b41b01"/></linearGradient>
<linearGradient id="hr22" gradientUnits="userSpaceOnUse" x1="296" y1="0" x2="906" y2="0"><stop offset="0.000" stop-color="#eb500e"/><stop offset="0.049" stop-color="#ed5510"/><stop offset="0.098" stop-color="#f05b12"/><stop offset="0.148" stop-color="#f05b12"/><stop offset="0.197" stop-color="#ed5510"/><stop offset="0.246" stop-color="#eb500e"/><stop offset="0.295" stop-color="#dc3b07"/><stop offset="0.344" stop-color="#cc2b04"/><stop offset="0.393" stop-color="#c52603"/><stop offset="0.443" stop-color="#be2102"/><stop offset="0.492" stop-color="#b41b01"/><stop offset="0.541" stop-color="#a91601"/><stop offset="0.590" stop-color="#a71401"/><stop offset="0.639" stop-color="#a71401"/><stop offset="0.689" stop-color="#a71401"/><stop offset="0.738" stop-color="#a71401"/><stop offset="0.787" stop-color="#ac1701"/><stop offset="0.836" stop-color="#b41b01"/><stop offset="0.885" stop-color="#bc2002"/><stop offset="0.934" stop-color="#bc2002"/><stop offset="0.984" stop-color="#b71d02"/><stop offset="1.000" stop-color="#b41b01"/></linearGradient>
<linearGradient id="hr23" gradientUnits="userSpaceOnUse" x1="296" y1="0" x2="906" y2="0"><stop offset="0.000" stop-color="#eb500e"/><stop offset="0.049" stop-color="#ec530f"/><stop offset="0.098" stop-color="#ef5811"/><stop offset="0.148" stop-color="#ef5811"/><stop offset="0.197" stop-color="#ed5510"/><stop offset="0.246" stop-color="#eb500e"/><stop offset="0.295" stop-color="#dc3b07"/><stop offset="0.344" stop-color="#cc2b04"/><stop offset="0.393" stop-color="#c52603"/><stop offset="0.443" stop-color="#be2102"/><stop offset="0.492" stop-color="#b21a01"/><stop offset="0.541" stop-color="#a91601"/><stop offset="0.590" stop-color="#a41301"/><stop offset="0.639" stop-color="#a41301"/><stop offset="0.689" stop-color="#a41301"/><stop offset="0.738" stop-color="#a41301"/><stop offset="0.787" stop-color="#a91601"/><stop offset="0.836" stop-color="#b21a01"/><stop offset="0.885" stop-color="#b91e02"/><stop offset="0.934" stop-color="#b91e02"/><stop offset="0.984" stop-color="#b41b01"/><stop offset="1.000" stop-color="#b41b01"/></linearGradient>
<linearGradient id="hr24" gradientUnits="userSpaceOnUse" x1="296" y1="0" x2="906" y2="0"><stop offset="0.000" stop-color="#ea4e0d"/><stop offset="0.049" stop-color="#eb500e"/><stop offset="0.098" stop-color="#ed5510"/><stop offset="0.148" stop-color="#ed5510"/><stop offset="0.197" stop-color="#ec530f"/><stop offset="0.246" stop-color="#ea4e0d"/><stop offset="0.295" stop-color="#dc3b07"/><stop offset="0.344" stop-color="#cc2b04"/><stop offset="0.393" stop-color="#c52603"/><stop offset="0.443" stop-color="#be2102"/><stop offset="0.492" stop-color="#b21a01"/><stop offset="0.541" stop-color="#a71401"/><stop offset="0.590" stop-color="#a41301"/><stop offset="0.639" stop-color="#a11201"/><stop offset="0.689" stop-color="#a11201"/><stop offset="0.738" stop-color="#a11201"/><stop offset="0.787" stop-color="#a71401"/><stop offset="0.836" stop-color="#ac1701"/><stop offset="0.885" stop-color="#b41b01"/><stop offset="0.934" stop-color="#b41b01"/><stop offset="0.984" stop-color="#b21a01"/><stop offset="1.000" stop-color="#b21a01"/></linearGradient>
<linearGradient id="hr25" gradientUnits="userSpaceOnUse" x1="296" y1="0" x2="906" y2="0"><stop offset="0.000" stop-color="#ea4e0d"/><stop offset="0.049" stop-color="#eb500e"/><stop offset="0.098" stop-color="#ec530f"/><stop offset="0.148" stop-color="#ec530f"/><stop offset="0.197" stop-color="#eb500e"/><stop offset="0.246" stop-color="#e84b0c"/><stop offset="0.295" stop-color="#da3907"/><stop offset="0.344" stop-color="#ce2d04"/><stop offset="0.393" stop-color="#c82803"/><stop offset="0.443" stop-color="#be2102"/><stop offset="0.492" stop-color="#b21a01"/><stop offset="0.541" stop-color="#a71401"/><stop offset="0.590" stop-color="#a11201"/><stop offset="0.639" stop-color="#a11201"/><stop offset="0.689" stop-color="#9e1001"/><stop offset="0.738" stop-color="#9e1001"/><stop offset="0.787" stop-color="#a41301"/><stop offset="0.836" stop-color="#a91601"/><stop offset="0.885" stop-color="#af1801"/><stop offset="0.934" stop-color="#b21a01"/><stop offset="0.984" stop-color="#af1801"/><stop offset="1.000" stop-color="#af1801"/></linearGradient>
<linearGradient id="hr26" gradientUnits="userSpaceOnUse" x1="296" y1="0" x2="906" y2="0"><stop offset="0.000" stop-color="#e84b0c"/><stop offset="0.049" stop-color="#ea4e0d"/><stop offset="0.098" stop-color="#eb500e"/><stop offset="0.148" stop-color="#eb500e"/><stop offset="0.197" stop-color="#ea4e0d"/><stop offset="0.246" stop-color="#e7490c"/><stop offset="0.295" stop-color="#da3907"/><stop offset="0.344" stop-color="#ce2d04"/><stop offset="0.393" stop-color="#c82803"/><stop offset="0.443" stop-color="#be2102"/><stop offset="0.492" stop-color="#b21a01"/><stop offset="0.541" stop-color="#a41301"/><stop offset="0.590" stop-color="#a11201"/><stop offset="0.639" stop-color="#9e1001"/><stop offset="0.689" stop-color="#9e1001"/><stop offset="0.738" stop-color="#9e1001"/><stop offset="0.787" stop-color="#a11201"/><stop offset="0.836" stop-color="#a71401"/><stop offset="0.885" stop-color="#a91601"/><stop offset="0.934" stop-color="#ac1701"/><stop offset="0.984" stop-color="#ac1701"/><stop offset="1.000" stop-color="#a91601"/></linearGradient>
<linearGradient id="hr27" gradientUnits="userSpaceOnUse" x1="296" y1="0" x2="906" y2="0"><stop offset="0.000" stop-color="#e7490c"/><stop offset="0.049" stop-color="#e84b0c"/><stop offset="0.098" stop-color="#ea4e0d"/><stop offset="0.148" stop-color="#ea4e0d"/><stop offset="0.197" stop-color="#e84b0c"/><stop offset="0.246" stop-color="#e5470b"/><stop offset="0.295" stop-color="#d83706"/><stop offset="0.344" stop-color="#ce2d04"/><stop offset="0.393" stop-color="#c82803"/><stop offset="0.443" stop-color="#be2102"/><stop offset="0.492" stop-color="#af1801"/><stop offset="0.541" stop-color="#a41301"/><stop offset="0.590" stop-color="#a11201"/><stop offset="0.639" stop-color="#9e1001"/><stop offset="0.689" stop-color="#9b0f01"/><stop offset="0.738" stop-color="#9b0f01"/><stop offset="0.787" stop-color="#9e1001"/><stop offset="0.836" stop-color="#a41301"/><stop offset="0.885" stop-color="#a71401"/><stop offset="0.934" stop-color="#a71401"/><stop offset="0.984" stop-color="#a71401"/><stop offset="1.000" stop-color="#a71401"/></linearGradient>
<linearGradient id="hr28" gradientUnits="userSpaceOnUse" x1="296" y1="0" x2="906" y2="0"><stop offset="0.000" stop-color="#e7490c"/><stop offset="0.049" stop-color="#e7490c"/><stop offset="0.098" stop-color="#e84b0c"/><stop offset="0.148" stop-color="#e84b0c"/><stop offset="0.197" stop-color="#e7490c"/><stop offset="0.246" stop-color="#e4450a"/><stop offset="0.295" stop-color="#d63506"/><stop offset="0.344" stop-color="#ce2d04"/><stop offset="0.393" stop-color="#c82803"/><stop offset="0.443" stop-color="#be2102"/><stop offset="0.492" stop-color="#af1801"/><stop offset="0.541" stop-color="#a41301"/><stop offset="0.590" stop-color="#9e1001"/><stop offset="0.639" stop-color="#9e1001"/><stop offset="0.689" stop-color="#9b0f01"/><stop offset="0.738" stop-color="#9b0f01"/><stop offset="0.787" stop-color="#9b0f01"/><stop offset="0.836" stop-color="#a11201"/><stop offset="0.885" stop-color="#a41301"/><stop offset="0.934" stop-color="#a41301"/><stop offset="0.984" stop-color="#a41301"/><stop offset="1.000" stop-color="#a41301"/></linearGradient>
<linearGradient id="hr29" gradientUnits="userSpaceOnUse" x1="296" y1="0" x2="906" y2="0"><stop offset="0.000" stop-color="#e5470b"/><stop offset="0.049" stop-color="#e5470b"/><stop offset="0.098" stop-color="#e7490c"/><stop offset="0.148" stop-color="#e5470b"/><stop offset="0.197" stop-color="#e5470b"/><stop offset="0.246" stop-color="#e14109"/><stop offset="0.295" stop-color="#d43305"/><stop offset="0.344" stop-color="#ce2d04"/><stop offset="0.393" stop-color="#c82803"/><stop offset="0.443" stop-color="#be2102"/><stop offset="0.492" stop-color="#af1801"/><stop offset="0.541" stop-color="#a41301"/><stop offset="0.590" stop-color="#9e1001"/><stop offset="0.639" stop-color="#9e1001"/><stop offset="0.689" stop-color="#9b0f01"/><stop offset="0.738" stop-color="#9b0f01"/><stop offset="0.787" stop-color="#9b0f01"/><stop offset="0.836" stop-color="#9e1001"/><stop offset="0.885" stop-color="#a11201"/><stop offset="0.934" stop-color="#a11201"/><stop offset="0.984" stop-color="#a11201"/><stop offset="1.000" stop-color="#a11201"/></linearGradient>
<linearGradient id="hr30" gradientUnits="userSpaceOnUse" x1="296" y1="0" x2="906" y2="0"><stop offset="0.000" stop-color="#e4450a"/><stop offset="0.049" stop-color="#e4450a"/><stop offset="0.098" stop-color="#e5470b"/><stop offset="0.148" stop-color="#e4450a"/><stop offset="0.197" stop-color="#e2430a"/><stop offset="0.246" stop-color="#df3f08"/><stop offset="0.295" stop-color="#d43305"/><stop offset="0.344" stop-color="#ce2d04"/><stop offset="0.393" stop-color="#c82803"/><stop offset="0.443" stop-color="#bc2002"/><stop offset="0.492" stop-color="#af1801"/><stop offset="0.541" stop-color="#a41301"/><stop offset="0.590" stop-color="#9e1001"/><stop offset="0.639" stop-color="#9b0f01"/><stop offset="0.689" stop-color="#9b0f01"/><stop offset="0.738" stop-color="#980e01"/><stop offset="0.787" stop-color="#980e01"/><stop offset="0.836" stop-color="#9b0f01"/><stop offset="0.885" stop-color="#9e1001"/><stop offset="0.934" stop-color="#9e1001"/><stop offset="0.984" stop-color="#9e1001"/><stop offset="1.000" stop-color="#9e1001"/></linearGradient>
<linearGradient id="hr31" gradientUnits="userSpaceOnUse" x1="296" y1="0" x2="906" y2="0"><stop offset="0.000" stop-color="#e4450a"/><stop offset="0.049" stop-color="#e4450a"/><stop offset="0.098" stop-color="#e4450a"/><stop offset="0.148" stop-color="#e2430a"/><stop offset="0.197" stop-color="#e14109"/><stop offset="0.246" stop-color="#dc3b07"/><stop offset="0.295" stop-color="#d23105"/><stop offset="0.344" stop-color="#cc2b04"/><stop offset="0.393" stop-color="#c82803"/><stop offset="0.443" stop-color="#bc2002"/><stop offset="0.492" stop-color="#af1801"/><stop offset="0.541" stop-color="#a41301"/><stop offset="0.590" stop-color="#9e1001"/><stop offset="0.639" stop-color="#9b0f01"/><stop offset="0.689" stop-color="#980e01"/><stop offset="0.738" stop-color="#980e01"/><stop offset="0.787" stop-color="#980e01"/><stop offset="0.836" stop-color="#9b0f01"/><stop offset="0.885" stop-color="#9b0f01"/><stop offset="0.934" stop-color="#9b0f01"/><stop offset="0.984" stop-color="#9b0f01"/><stop offset="1.000" stop-color="#9b0f01"/></linearGradient>
<linearGradient id="hr32" gradientUnits="userSpaceOnUse" x1="296" y1="0" x2="906" y2="0"><stop offset="0.000" stop-color="#e2430a"/><stop offset="0.049" stop-color="#e2430a"/><stop offset="0.098" stop-color="#e2430a"/><stop offset="0.148" stop-color="#e14109"/><stop offset="0.197" stop-color="#df3f08"/><stop offset="0.246" stop-color="#da3907"/><stop offset="0.295" stop-color="#d23105"/><stop offset="0.344" stop-color="#cc2b04"/><stop offset="0.393" stop-color="#c52603"/><stop offset="0.443" stop-color="#bc2002"/><stop offset="0.492" stop-color="#b21a01"/><stop offset="0.541" stop-color="#a71401"/><stop offset="0.590" stop-color="#9e1001"/><stop offset="0.639" stop-color="#9b0f01"/><stop offset="0.689" stop-color="#980e01"/><stop offset="0.738" stop-color="#980e01"/><stop offset="0.787" stop-color="#980e01"/><stop offset="0.836" stop-color="#980e01"/><stop offset="0.885" stop-color="#980e01"/><stop offset="0.934" stop-color="#980e01"/><stop offset="0.984" stop-color="#980e01"/><stop offset="1.000" stop-color="#980e01"/></linearGradient>
<linearGradient id="hr33" gradientUnits="userSpaceOnUse" x1="296" y1="0" x2="906" y2="0"><stop offset="0.000" stop-color="#e14109"/><stop offset="0.049" stop-color="#e14109"/><stop offset="0.098" stop-color="#df3f08"/><stop offset="0.148" stop-color="#df3f08"/><stop offset="0.197" stop-color="#dd3d08"/><stop offset="0.246" stop-color="#d83706"/><stop offset="0.295" stop-color="#d02f05"/><stop offset="0.344" stop-color="#cc2b04"/><stop offset="0.393" stop-color="#c52603"/><stop offset="0.443" stop-color="#bc2002"/><stop offset="0.492" stop-color="#b21a01"/><stop offset="0.541" stop-color="#a71401"/><stop offset="0.590" stop-color="#9e1001"/><stop offset="0.639" stop-color="#9b0f01"/><stop offset="0.689" stop-color="#980e01"/><stop offset="0.738" stop-color="#950d01"/><stop offset="0.787" stop-color="#950d01"/><stop offset="0.836" stop-color="#980e01"/><stop offset="0.885" stop-color="#980e01"/><stop offset="0.934" stop-color="#980e01"/><stop offset="0.984" stop-color="#980e01"/><stop offset="1.000" stop-color="#980e01"/></linearGradient>
<linearGradient id="hr34" gradientUnits="userSpaceOnUse" x1="296" y1="0" x2="906" y2="0"><stop offset="0.000" stop-color="#e14109"/><stop offset="0.049" stop-color="#df3f08"/><stop offset="0.098" stop-color="#dd3d08"/><stop offset="0.148" stop-color="#dd3d08"/><stop offset="0.197" stop-color="#da3907"/><stop offset="0.246" stop-color="#d63506"/><stop offset="0.295" stop-color="#d02f05"/><stop offset="0.344" stop-color="#cc2b04"/><stop offset="0.393" stop-color="#c52603"/><stop offset="0.443" stop-color="#bc2002"/><stop offset="0.492" stop-color="#b21a01"/><stop offset="0.541" stop-color="#a71401"/><stop offset="0.590" stop-color="#9e1001"/><stop offset="0.639" stop-color="#9b0f01"/><stop offset="0.689" stop-color="#980e01"/><stop offset="0.738" stop-color="#950d01"/><stop offset="0.787" stop-color="#950d01"/><stop offset="0.836" stop-color="#950d01"/><stop offset="0.885" stop-color="#950d01"/><stop offset="0.934" stop-color="#950d01"/><stop offset="0.984" stop-color="#950d01"/><stop offset="1.000" stop-color="#950d01"/></linearGradient>
<linearGradient id="hr35" gradientUnits="userSpaceOnUse" x1="296" y1="0" x2="906" y2="0"><stop offset="0.000" stop-color="#df3f08"/><stop offset="0.049" stop-color="#dd3d08"/><stop offset="0.098" stop-color="#dc3b07"/><stop offset="0.148" stop-color="#dc3b07"/><stop offset="0.197" stop-color="#d83706"/><stop offset="0.246" stop-color="#d43305"/><stop offset="0.295" stop-color="#ce2d04"/><stop offset="0.344" stop-color="#ca2a04"/><stop offset="0.393" stop-color="#c52603"/><stop offset="0.443" stop-color="#bc2002"/><stop offset="0.492" stop-color="#b41b01"/><stop offset="0.541" stop-color="#a91601"/><stop offset="0.590" stop-color="#a11201"/><stop offset="0.639" stop-color="#9b0f01"/><stop offset="0.689" stop-color="#980e01"/><stop offset="0.738" stop-color="#950d01"/><stop offset="0.787" stop-color="#950d01"/><stop offset="0.836" stop-color="#950d01"/><stop offset="0.885" stop-color="#950d01"/><stop offset="0.934" stop-color="#950d01"/><stop offset="0.984" stop-color="#950d01"/><stop offset="1.000" stop-color="#950d01"/></linearGradient>
<linearGradient id="hr36" gradientUnits="userSpaceOnUse" x1="296" y1="0" x2="906" y2="0"><stop offset="0.000" stop-color="#dd3d08"/><stop offset="0.049" stop-color="#dc3b07"/><stop offset="0.098" stop-color="#dc3b07"/><stop offset="0.148" stop-color="#da3907"/><stop offset="0.197" stop-color="#d63506"/><stop offset="0.246" stop-color="#d23105"/><stop offset="0.295" stop-color="#ce2d04"/><stop offset="0.344" stop-color="#ca2a04"/><stop offset="0.393" stop-color="#c52603"/><stop offset="0.443" stop-color="#be2102"/><stop offset="0.492" stop-color="#b41b01"/><stop offset="0.541" stop-color="#a91601"/><stop offset="0.590" stop-color="#a11201"/><stop offset="0.639" stop-color="#9b0f01"/><stop offset="0.689" stop-color="#980e01"/><stop offset="0.738" stop-color="#950d01"/><stop offset="0.787" stop-color="#950d01"/><stop offset="0.836" stop-color="#950d01"/><stop offset="0.885" stop-color="#950d01"/><stop offset="0.934" stop-color="#950d01"/><stop offset="0.984" stop-color="#950d01"/><stop offset="1.000" stop-color="#950d01"/></linearGradient>
<linearGradient id="hr37" gradientUnits="userSpaceOnUse" x1="296" y1="0" x2="906" y2="0"><stop offset="0.000" stop-color="#dd3d08"/><stop offset="0.049" stop-color="#dc3b07"/><stop offset="0.098" stop-color="#da3907"/><stop offset="0.148" stop-color="#d83706"/><stop offset="0.197" stop-color="#d43305"/><stop offset="0.246" stop-color="#d02f05"/><stop offset="0.295" stop-color="#cc2b04"/><stop offset="0.344" stop-color="#ca2a04"/><stop offset="0.393" stop-color="#c52603"/><stop offset="0.443" stop-color="#be2102"/><stop offset="0.492" stop-color="#b71d02"/><stop offset="0.541" stop-color="#ac1701"/><stop offset="0.590" stop-color="#a11201"/><stop offset="0.639" stop-color="#9b0f01"/><stop offset="0.689" stop-color="#980e01"/><stop offset="0.738" stop-color="#950d01"/><stop offset="0.787" stop-color="#950d01"/><stop offset="0.836" stop-color="#950d01"/><stop offset="0.885" stop-color="#950d01"/><stop offset="0.934" stop-color="#950d01"/><stop offset="0.984" stop-color="#950d01"/><stop offset="1.000" stop-color="#950d01"/></linearGradient>
<linearGradient id="hr38" gradientUnits="userSpaceOnUse" x1="296" y1="0" x2="906" y2="0"><stop offset="0.000" stop-color="#dc3b07"/><stop offset="0.049" stop-color="#da3907"/><stop offset="0.098" stop-color="#d83706"/><stop offset="0.148" stop-color="#d63506"/><stop offset="0.197" stop-color="#d23105"/><stop offset="0.246" stop-color="#ce2d04"/><stop offset="0.295" stop-color="#cc2b04"/><stop offset="0.344" stop-color="#ca2a04"/><stop offset="0.393" stop-color="#c52603"/><stop offset="0.443" stop-color="#c12302"/><stop offset="0.492" stop-color="#b91e02"/><stop offset="0.541" stop-color="#ac1701"/><stop offset="0.590" stop-color="#a11201"/><stop offset="0.639" stop-color="#9b0f01"/><stop offset="0.689" stop-color="#980e01"/><stop offset="0.738" stop-color="#950d01"/><stop offset="0.787" stop-color="#950d01"/><stop offset="0.836" stop-color="#950d01"/><stop offset="0.885" stop-color="#950d01"/><stop offset="0.934" stop-color="#950d01"/><stop offset="0.984" stop-color="#950d01"/><stop offset="1.000" stop-color="#950d01"/></linearGradient>
<linearGradient id="hr39" gradientUnits="userSpaceOnUse" x1="296" y1="0" x2="906" y2="0"><stop offset="0.000" stop-color="#da3907"/><stop offset="0.049" stop-color="#d83706"/><stop offset="0.098" stop-color="#d63506"/><stop offset="0.148" stop-color="#d43305"/><stop offset="0.197" stop-color="#d02f05"/><stop offset="0.246" stop-color="#cc2b04"/><stop offset="0.295" stop-color="#ca2a04"/><stop offset="0.344" stop-color="#ca2a04"/><stop offset="0.393" stop-color="#c52603"/><stop offset="0.443" stop-color="#c12302"/><stop offset="0.492" stop-color="#b91e02"/><stop offset="0.541" stop-color="#af1801"/><stop offset="0.590" stop-color="#a41301"/><stop offset="0.639" stop-color="#9b0f01"/><stop offset="0.689" stop-color="#980e01"/><stop offset="0.738" stop-color="#950d01"/><stop offset="0.787" stop-color="#950d01"/><stop offset="0.836" stop-color="#950d01"/><stop offset="0.885" stop-color="#950d01"/><stop offset="0.934" stop-color="#950d01"/><stop offset="0.984" stop-color="#950d01"/><stop offset="1.000" stop-color="#950d01"/></linearGradient>
<linearGradient id="hr40" gradientUnits="userSpaceOnUse" x1="296" y1="0" x2="906" y2="0"><stop offset="0.000" stop-color="#da3907"/><stop offset="0.049" stop-color="#d63506"/><stop offset="0.098" stop-color="#d43305"/><stop offset="0.148" stop-color="#d23105"/><stop offset="0.197" stop-color="#d02f05"/><stop offset="0.246" stop-color="#cc2b04"/><stop offset="0.295" stop-color="#ca2a04"/><stop offset="0.344" stop-color="#c82803"/><stop offset="0.393" stop-color="#c52603"/><stop offset="0.443" stop-color="#c32503"/><stop offset="0.492" stop-color="#bc2002"/><stop offset="0.541" stop-color="#af1801"/><stop offset="0.590" stop-color="#a41301"/><stop offset="0.639" stop-color="#9b0f01"/><stop offset="0.689" stop-color="#980e01"/><stop offset="0.738" stop-color="#980e01"/><stop offset="0.787" stop-color="#950d01"/><stop offset="0.836" stop-color="#950d01"/><stop offset="0.885" stop-color="#950d01"/><stop offset="0.934" stop-color="#950d01"/><stop offset="0.984" stop-color="#950d01"/><stop offset="1.000" stop-color="#950d01"/></linearGradient>
<linearGradient id="hr41" gradientUnits="userSpaceOnUse" x1="296" y1="0" x2="906" y2="0"><stop offset="0.000" stop-color="#d83706"/><stop offset="0.049" stop-color="#d63506"/><stop offset="0.098" stop-color="#d43305"/><stop offset="0.148" stop-color="#d02f05"/><stop offset="0.197" stop-color="#ce2d04"/><stop offset="0.246" stop-color="#ca2a04"/><stop offset="0.295" stop-color="#ca2a04"/><stop offset="0.344" stop-color="#c82803"/><stop offset="0.393" stop-color="#c82803"/><stop offset="0.443" stop-color="#c32503"/><stop offset="0.492" stop-color="#bc2002"/><stop offset="0.541" stop-color="#b21a01"/><stop offset="0.590" stop-color="#a41301"/><stop offset="0.639" stop-color="#9b0f01"/><stop offset="0.689" stop-color="#980e01"/><stop offset="0.738" stop-color="#980e01"/><stop offset="0.787" stop-color="#950d01"/><stop offset="0.836" stop-color="#950d01"/><stop offset="0.885" stop-color="#950d01"/><stop offset="0.934" stop-color="#950d01"/><stop offset="0.984" stop-color="#950d01"/><stop offset="1.000" stop-color="#950d01"/></linearGradient>
<linearGradient id="hr42" gradientUnits="userSpaceOnUse" x1="296" y1="0" x2="906" y2="0"><stop offset="0.000" stop-color="#d83706"/><stop offset="0.049" stop-color="#d43305"/><stop offset="0.098" stop-color="#d23105"/><stop offset="0.148" stop-color="#d02f05"/><stop offset="0.197" stop-color="#cc2b04"/><stop offset="0.246" stop-color="#ca2a04"/><stop offset="0.295" stop-color="#c82803"/><stop offset="0.344" stop-color="#c82803"/><stop offset="0.393" stop-color="#c82803"/><stop offset="0.443" stop-color="#c32503"/><stop offset="0.492" stop-color="#be2102"/><stop offset="0.541" stop-color="#b21a01"/><stop offset="0.590" stop-color="#a41301"/><stop offset="0.639" stop-color="#9b0f01"/><stop offset="0.689" stop-color="#980e01"/><stop offset="0.738" stop-color="#980e01"/><stop offset="0.787" stop-color="#950d01"/><stop offset="0.836" stop-color="#950d01"/><stop offset="0.885" stop-color="#950d01"/><stop offset="0.934" stop-color="#950d01"/><stop offset="0.984" stop-color="#980e01"/><stop offset="1.000" stop-color="#950d01"/></linearGradient>
<linearGradient id="hr43" gradientUnits="userSpaceOnUse" x1="296" y1="0" x2="906" y2="0"><stop offset="0.000" stop-color="#d63506"/><stop offset="0.049" stop-color="#d43305"/><stop offset="0.098" stop-color="#d23105"/><stop offset="0.148" stop-color="#ce2d04"/><stop offset="0.197" stop-color="#cc2b04"/><stop offset="0.246" stop-color="#c82803"/><stop offset="0.295" stop-color="#c82803"/><stop offset="0.344" stop-color="#c82803"/><stop offset="0.393" stop-color="#c82803"/><stop offset="0.443" stop-color="#c52603"/><stop offset="0.492" stop-color="#be2102"/><stop offset="0.541" stop-color="#b21a01"/><stop offset="0.590" stop-color="#a41301"/><stop offset="0.639" stop-color="#9b0f01"/><stop offset="0.689" stop-color="#980e01"/><stop offset="0.738" stop-color="#980e01"/><stop offset="0.787" stop-color="#950d01"/><stop offset="0.836" stop-color="#950d01"/><stop offset="0.885" stop-color="#950d01"/><stop offset="0.934" stop-color="#950d01"/><stop offset="0.984" stop-color="#980e01"/><stop offset="1.000" stop-color="#950d01"/></linearGradient>
<linearGradient id="hr44" gradientUnits="userSpaceOnUse" x1="296" y1="0" x2="906" y2="0"><stop offset="0.000" stop-color="#d63506"/><stop offset="0.049" stop-color="#d23105"/><stop offset="0.098" stop-color="#d02f05"/><stop offset="0.148" stop-color="#ce2d04"/><stop offset="0.197" stop-color="#cc2b04"/><stop offset="0.246" stop-color="#c82803"/><stop offset="0.295" stop-color="#c82803"/><stop offset="0.344" stop-color="#c82803"/><stop offset="0.393" stop-color="#c52603"/><stop offset="0.443" stop-color="#c52603"/><stop offset="0.492" stop-color="#c12302"/><stop offset="0.541" stop-color="#b21a01"/><stop offset="0.590" stop-color="#a41301"/><stop offset="0.639" stop-color="#9b0f01"/><stop offset="0.689" stop-color="#980e01"/><stop offset="0.738" stop-color="#980e01"/><stop offset="0.787" stop-color="#950d01"/><stop offset="0.836" stop-color="#950d01"/><stop offset="0.885" stop-color="#950d01"/><stop offset="0.934" stop-color="#950d01"/><stop offset="0.984" stop-color="#950d01"/><stop offset="1.000" stop-color="#950d01"/></linearGradient>
<linearGradient id="hr45" gradientUnits="userSpaceOnUse" x1="296" y1="0" x2="906" y2="0"><stop offset="0.000" stop-color="#d63506"/><stop offset="0.049" stop-color="#d23105"/><stop offset="0.098" stop-color="#d02f05"/><stop offset="0.148" stop-color="#ce2d04"/><stop offset="0.197" stop-color="#ca2a04"/><stop offset="0.246" stop-color="#c82803"/><stop offset="0.295" stop-color="#c82803"/><stop offset="0.344" stop-color="#c82803"/><stop offset="0.393" stop-color="#c52603"/><stop offset="0.443" stop-color="#c52603"/><stop offset="0.492" stop-color="#c12302"/><stop offset="0.541" stop-color="#b21a01"/><stop offset="0.590" stop-color="#a41301"/><stop offset="0.639" stop-color="#9b0f01"/><stop offset="0.689" stop-color="#980e01"/><stop offset="0.738" stop-color="#980e01"/><stop offset="0.787" stop-color="#950d01"/><stop offset="0.836" stop-color="#950d01"/><stop offset="0.885" stop-color="#950d01"/><stop offset="0.934" stop-color="#950d01"/><stop offset="0.984" stop-color="#950d01"/><stop offset="1.000" stop-color="#950d01"/></linearGradient>
<linearGradient id="hr46" gradientUnits="userSpaceOnUse" x1="296" y1="0" x2="906" y2="0"><stop offset="0.000" stop-color="#d43305"/><stop offset="0.049" stop-color="#d23105"/><stop offset="0.098" stop-color="#d02f05"/><stop offset="0.148" stop-color="#ce2d04"/><stop offset="0.197" stop-color="#ca2a04"/><stop offset="0.246" stop-color="#c82803"/><stop offset="0.295" stop-color="#c52603"/><stop offset="0.344" stop-color="#c82803"/><stop offset="0.393" stop-color="#c52603"/><stop offset="0.443" stop-color="#c52603"/><stop offset="0.492" stop-color="#c12302"/><stop offset="0.541" stop-color="#b41b01"/><stop offset="0.590" stop-color="#a41301"/><stop offset="0.639" stop-color="#9b0f01"/><stop offset="0.689" stop-color="#980e01"/><stop offset="0.738" stop-color="#980e01"/><stop offset="0.787" stop-color="#950d01"/><stop offset="0.836" stop-color="#950d01"/><stop offset="0.885" stop-color="#950d01"/><stop offset="0.934" stop-color="#980e01"/><stop offset="0.984" stop-color="#950d01"/><stop offset="1.000" stop-color="#950d01"/></linearGradient>
<linearGradient id="hr47" gradientUnits="userSpaceOnUse" x1="296" y1="0" x2="906" y2="0"><stop offset="0.000" stop-color="#d43305"/><stop offset="0.049" stop-color="#d02f05"/><stop offset="0.098" stop-color="#ce2d04"/><stop offset="0.148" stop-color="#cc2b04"/><stop offset="0.197" stop-color="#ca2a04"/><stop offset="0.246" stop-color="#c52603"/><stop offset="0.295" stop-color="#c52603"/><stop offset="0.344" stop-color="#c52603"/><stop offset="0.393" stop-color="#c52603"/><stop offset="0.443" stop-color="#c52603"/><stop offset="0.492" stop-color="#c32503"/><stop offset="0.541" stop-color="#b41b01"/><stop offset="0.590" stop-color="#a41301"/><stop offset="0.639" stop-color="#9b0f01"/><stop offset="0.689" stop-color="#980e01"/><stop offset="0.738" stop-color="#980e01"/><stop offset="0.787" stop-color="#950d01"/><stop offset="0.836" stop-color="#950d01"/><stop offset="0.885" stop-color="#980e01"/><stop offset="0.934" stop-color="#980e01"/><stop offset="0.984" stop-color="#950d01"/><stop offset="1.000" stop-color="#950d01"/></linearGradient>
<linearGradient id="hr48" gradientUnits="userSpaceOnUse" x1="296" y1="0" x2="906" y2="0"><stop offset="0.000" stop-color="#d43305"/><stop offset="0.049" stop-color="#d02f05"/><stop offset="0.098" stop-color="#ce2d04"/><stop offset="0.148" stop-color="#cc2b04"/><stop offset="0.197" stop-color="#c82803"/><stop offset="0.246" stop-color="#c52603"/><stop offset="0.295" stop-color="#c52603"/><stop offset="0.344" stop-color="#c52603"/><stop offset="0.393" stop-color="#c52603"/><stop offset="0.443" stop-color="#c52603"/><stop offset="0.492" stop-color="#c32503"/><stop offset="0.541" stop-color="#b41b01"/><stop offset="0.590" stop-color="#a41301"/><stop offset="0.639" stop-color="#9b0f01"/><stop offset="0.689" stop-color="#980e01"/><stop offset="0.738" stop-color="#980e01"/><stop offset="0.787" stop-color="#950d01"/><stop offset="0.836" stop-color="#950d01"/><stop offset="0.885" stop-color="#980e01"/><stop offset="0.934" stop-color="#980e01"/><stop offset="0.984" stop-color="#950d01"/><stop offset="1.000" stop-color="#950d01"/></linearGradient>
<linearGradient id="hr49" gradientUnits="userSpaceOnUse" x1="296" y1="0" x2="906" y2="0"><stop offset="0.000" stop-color="#d43305"/><stop offset="0.049" stop-color="#d02f05"/><stop offset="0.098" stop-color="#ce2d04"/><stop offset="0.148" stop-color="#cc2b04"/><stop offset="0.197" stop-color="#c82803"/><stop offset="0.246" stop-color="#c52603"/><stop offset="0.295" stop-color="#c52603"/><stop offset="0.344" stop-color="#c52603"/><stop offset="0.393" stop-color="#c52603"/><stop offset="0.443" stop-color="#c52603"/><stop offset="0.492" stop-color="#c32503"/><stop offset="0.541" stop-color="#b41b01"/><stop offset="0.590" stop-color="#a41301"/><stop offset="0.639" stop-color="#9b0f01"/><stop offset="0.689" stop-color="#980e01"/><stop offset="0.738" stop-color="#980e01"/><stop offset="0.787" stop-color="#950d01"/><stop offset="0.836" stop-color="#950d01"/><stop offset="0.885" stop-color="#980e01"/><stop offset="0.934" stop-color="#980e01"/><stop offset="0.984" stop-color="#950d01"/><stop offset="1.000" stop-color="#950d01"/></linearGradient>
<linearGradient id="hr50" gradientUnits="userSpaceOnUse" x1="296" y1="0" x2="906" y2="0"><stop offset="0.000" stop-color="#d43305"/><stop offset="0.049" stop-color="#d02f05"/><stop offset="0.098" stop-color="#ce2d04"/><stop offset="0.148" stop-color="#cc2b04"/><stop offset="0.197" stop-color="#c82803"/><stop offset="0.246" stop-color="#c52603"/><stop offset="0.295" stop-color="#c52603"/><stop offset="0.344" stop-color="#c52603"/><stop offset="0.393" stop-color="#c52603"/><stop offset="0.443" stop-color="#c52603"/><stop offset="0.492" stop-color="#c32503"/><stop offset="0.541" stop-color="#b71d02"/><stop offset="0.590" stop-color="#a71401"/><stop offset="0.639" stop-color="#9b0f01"/><stop offset="0.689" stop-color="#980e01"/><stop offset="0.738" stop-color="#980e01"/><stop offset="0.787" stop-color="#950d01"/><stop offset="0.836" stop-color="#950d01"/><stop offset="0.885" stop-color="#980e01"/><stop offset="0.934" stop-color="#980e01"/><stop offset="0.984" stop-color="#950d01"/><stop offset="1.000" stop-color="#950d01"/></linearGradient>
<linearGradient id="hr51" gradientUnits="userSpaceOnUse" x1="296" y1="0" x2="906" y2="0"><stop offset="0.000" stop-color="#d43305"/><stop offset="0.049" stop-color="#ce2d04"/><stop offset="0.098" stop-color="#ce2d04"/><stop offset="0.148" stop-color="#cc2b04"/><stop offset="0.197" stop-color="#c82803"/><stop offset="0.246" stop-color="#c32503"/><stop offset="0.295" stop-color="#c52603"/><stop offset="0.344" stop-color="#c52603"/><stop offset="0.393" stop-color="#c52603"/><stop offset="0.443" stop-color="#c52603"/><stop offset="0.492" stop-color="#c32503"/><stop offset="0.541" stop-color="#b71d02"/><stop offset="0.590" stop-color="#a71401"/><stop offset="0.639" stop-color="#9b0f01"/><stop offset="0.689" stop-color="#980e01"/><stop offset="0.738" stop-color="#980e01"/><stop offset="0.787" stop-color="#950d01"/><stop offset="0.836" stop-color="#950d01"/><stop offset="0.885" stop-color="#980e01"/><stop offset="0.934" stop-color="#980e01"/><stop offset="0.984" stop-color="#950d01"/><stop offset="1.000" stop-color="#950d01"/></linearGradient>
<linearGradient id="hr52" gradientUnits="userSpaceOnUse" x1="296" y1="0" x2="906" y2="0"><stop offset="0.000" stop-color="#d43305"/><stop offset="0.049" stop-color="#ce2d04"/><stop offset="0.098" stop-color="#cc2b04"/><stop offset="0.148" stop-color="#cc2b04"/><stop offset="0.197" stop-color="#c52603"/><stop offset="0.246" stop-color="#c32503"/><stop offset="0.295" stop-color="#c52603"/><stop offset="0.344" stop-color="#c52603"/><stop offset="0.393" stop-color="#c52603"/><stop offset="0.443" stop-color="#c52603"/><stop offset="0.492" stop-color="#c32503"/><stop offset="0.541" stop-color="#b71d02"/><stop offset="0.590" stop-color="#a71401"/><stop offset="0.639" stop-color="#9e1001"/><stop offset="0.689" stop-color="#980e01"/><stop offset="0.738" stop-color="#980e01"/><stop offset="0.787" stop-color="#950d01"/><stop offset="0.836" stop-color="#950d01"/><stop offset="0.885" stop-color="#980e01"/><stop offset="0.934" stop-color="#980e01"/><stop offset="0.984" stop-color="#950d01"/><stop offset="1.000" stop-color="#950d01"/></linearGradient>
<linearGradient id="hr53" gradientUnits="userSpaceOnUse" x1="296" y1="0" x2="906" y2="0"><stop offset="0.000" stop-color="#d43305"/><stop offset="0.049" stop-color="#ce2d04"/><stop offset="0.098" stop-color="#cc2b04"/><stop offset="0.148" stop-color="#cc2b04"/><stop offset="0.197" stop-color="#c52603"/><stop offset="0.246" stop-color="#c32503"/><stop offset="0.295" stop-color="#c52603"/><stop offset="0.344" stop-color="#c52603"/><stop offset="0.393" stop-color="#c82803"/><stop offset="0.443" stop-color="#c52603"/><stop offset="0.492" stop-color="#c52603"/><stop offset="0.541" stop-color="#b71d02"/><stop offset="0.590" stop-color="#a71401"/><stop offset="0.639" stop-color="#9e1001"/><stop offset="0.689" stop-color="#980e01"/><stop offset="0.738" stop-color="#950d01"/><stop offset="0.787" stop-color="#950d01"/><stop offset="0.836" stop-color="#950d01"/><stop offset="0.885" stop-color="#980e01"/><stop offset="0.934" stop-color="#980e01"/><stop offset="0.984" stop-color="#950d01"/><stop offset="1.000" stop-color="#950d01"/></linearGradient>
<linearGradient id="hr54" gradientUnits="userSpaceOnUse" x1="296" y1="0" x2="906" y2="0"><stop offset="0.000" stop-color="#d43305"/><stop offset="0.049" stop-color="#ce2d04"/><stop offset="0.098" stop-color="#cc2b04"/><stop offset="0.148" stop-color="#cc2b04"/><stop offset="0.197" stop-color="#c52603"/><stop offset="0.246" stop-color="#c32503"/><stop offset="0.295" stop-color="#c52603"/><stop offset="0.344" stop-color="#c52603"/><stop offset="0.393" stop-color="#c82803"/><stop offset="0.443" stop-color="#c52603"/><stop offset="0.492" stop-color="#c52603"/><stop offset="0.541" stop-color="#b71d02"/><stop offset="0.590" stop-color="#a71401"/><stop offset="0.639" stop-color="#9e1001"/><stop offset="0.689" stop-color="#980e01"/><stop offset="0.738" stop-color="#950d01"/><stop offset="0.787" stop-color="#950d01"/><stop offset="0.836" stop-color="#950d01"/><stop offset="0.885" stop-color="#980e01"/><stop offset="0.934" stop-color="#980e01"/><stop offset="0.984" stop-color="#950d01"/><stop offset="1.000" stop-color="#950d01"/></linearGradient>
<linearGradient id="hr55" gradientUnits="userSpaceOnUse" x1="296" y1="0" x2="906" y2="0"><stop offset="0.000" stop-color="#d43305"/><stop offset="0.049" stop-color="#ce2d04"/><stop offset="0.098" stop-color="#cc2b04"/><stop offset="0.148" stop-color="#cc2b04"/><stop offset="0.197" stop-color="#c52603"/><stop offset="0.246" stop-color="#c32503"/><stop offset="0.295" stop-color="#c52603"/><stop offset="0.344" stop-color="#c52603"/><stop offset="0.393" stop-color="#c82803"/><stop offset="0.443" stop-color="#c52603"/><stop offset="0.492" stop-color="#c52603"/><stop offset="0.541" stop-color="#b71d02"/><stop offset="0.590" stop-color="#a71401"/><stop offset="0.639" stop-color="#9e1001"/><stop offset="0.689" stop-color="#980e01"/><stop offset="0.738" stop-color="#950d01"/><stop offset="0.787" stop-color="#950d01"/><stop offset="0.836" stop-color="#950d01"/><stop offset="0.885" stop-color="#980e01"/><stop offset="0.934" stop-color="#980e01"/><stop offset="0.984" stop-color="#950d01"/><stop offset="1.000" stop-color="#950d01"/></linearGradient>
<linearGradient id="hr56" gradientUnits="userSpaceOnUse" x1="296" y1="0" x2="906" y2="0"><stop offset="0.000" stop-color="#d23105"/><stop offset="0.049" stop-color="#ce2d04"/><stop offset="0.098" stop-color="#cc2b04"/><stop offset="0.148" stop-color="#cc2b04"/><stop offset="0.197" stop-color="#c52603"/><stop offset="0.246" stop-color="#c32503"/><stop offset="0.295" stop-color="#c52603"/><stop offset="0.344" stop-color="#c52603"/><stop offset="0.393" stop-color="#c82803"/><stop offset="0.443" stop-color="#c52603"/><stop offset="0.492" stop-color="#c52603"/><stop offset="0.541" stop-color="#b71d02"/><stop offset="0.590" stop-color="#a71401"/><stop offset="0.639" stop-color="#9e1001"/><stop offset="0.689" stop-color="#980e01"/><stop offset="0.738" stop-color="#980e01"/><stop offset="0.787" stop-color="#950d01"/><stop offset="0.836" stop-color="#950d01"/><stop offset="0.885" stop-color="#980e01"/><stop offset="0.934" stop-color="#980e01"/><stop offset="0.984" stop-color="#950d01"/><stop offset="1.000" stop-color="#950d01"/></linearGradient>
<linearGradient id="hr57" gradientUnits="userSpaceOnUse" x1="296" y1="0" x2="906" y2="0"><stop offset="0.000" stop-color="#d23105"/><stop offset="0.049" stop-color="#ce2d04"/><stop offset="0.098" stop-color="#cc2b04"/><stop offset="0.148" stop-color="#cc2b04"/><stop offset="0.197" stop-color="#c52603"/><stop offset="0.246" stop-color="#c32503"/><stop offset="0.295" stop-color="#c52603"/><stop offset="0.344" stop-color="#c52603"/><stop offset="0.393" stop-color="#c52603"/><stop offset="0.443" stop-color="#c52603"/><stop offset="0.492" stop-color="#c32503"/><stop offset="0.541" stop-color="#b71d02"/><stop offset="0.590" stop-color="#a71401"/><stop offset="0.639" stop-color="#9e1001"/><stop offset="0.689" stop-color="#980e01"/><stop offset="0.738" stop-color="#980e01"/><stop offset="0.787" stop-color="#950d01"/><stop offset="0.836" stop-color="#950d01"/><stop offset="0.885" stop-color="#980e01"/><stop offset="0.934" stop-color="#980e01"/><stop offset="0.984" stop-color="#950d01"/><stop offset="1.000" stop-color="#950d01"/></linearGradient>
<linearGradient id="streak" gradientUnits="userSpaceOnUse" x1="0" y1="282" x2="0" y2="330">
<stop offset="0" stop-color="#d6e43c"/><stop offset="0.2" stop-color="#f4c73a"/><stop offset="0.4" stop-color="#fb8a24"/><stop offset="0.7" stop-color="#ee5a12"/><stop offset="1" stop-color="#d83a0a"/></linearGradient>
</defs>

<g clip-path="url(#mapclip)">
<rect x="98" y="148" width="806" height="576" fill="#808080"/>
<g mask="url(#hm)">
<g filter="url(#vblur)">
<rect x="296" y="278" width="610" height="8.5" fill="url(#hr0)"/>
<rect x="296" y="286" width="610" height="8.5" fill="url(#hr1)"/>
<rect x="296" y="294" width="610" height="8.5" fill="url(#hr2)"/>
<rect x="296" y="302" width="610" height="8.5" fill="url(#hr3)"/>
<rect x="296" y="310" width="610" height="8.5" fill="url(#hr4)"/>
<rect x="296" y="318" width="610" height="8.5" fill="url(#hr5)"/>
<rect x="296" y="326" width="610" height="8.5" fill="url(#hr6)"/>
<rect x="296" y="334" width="610" height="8.5" fill="url(#hr7)"/>
<rect x="296" y="342" width="610" height="8.5" fill="url(#hr8)"/>
<rect x="296" y="350" width="610" height="8.5" fill="url(#hr9)"/>
<rect x="296" y="358" width="610" height="8.5" fill="url(#hr10)"/>
<rect x="296" y="366" width="610" height="8.5" fill="url(#hr11)"/>
<rect x="296" y="374" width="610" height="8.5" fill="url(#hr12)"/>
<rect x="296" y="382" width="610" height="8.5" fill="url(#hr13)"/>
<rect x="296" y="390" width="610" height="8.5" fill="url(#hr14)"/>
<rect x="296" y="398" width="610" height="8.5" fill="url(#hr15)"/>
<rect x="296" y="406" width="610" height="8.5" fill="url(#hr16)"/>
<rect x="296" y="414" width="610" height="8.5" fill="url(#hr17)"/>
<rect x="296" y="422" width="610" height="8.5" fill="url(#hr18)"/>
<rect x="296" y="430" width="610" height="8.5" fill="url(#hr19)"/>
<rect x="296" y="438" width="610" height="8.5" fill="url(#hr20)"/>
<rect x="296" y="446" width="610" height="8.5" fill="url(#hr21)"/>
<rect x="296" y="454" width="610" height="8.5" fill="url(#hr22)"/>
<rect x="296" y="462" width="610" height="8.5" fill="url(#hr23)"/>
<rect x="296" y="470" width="610" height="8.5" fill="url(#hr24)"/>
<rect x="296" y="478" width="610" height="8.5" fill="url(#hr25)"/>
<rect x="296" y="486" width="610" height="8.5" fill="url(#hr26)"/>
<rect x="296" y="494" width="610" height="8.5" fill="url(#hr27)"/>
<rect x="296" y="502" width="610" height="8.5" fill="url(#hr28)"/>
<rect x="296" y="510" width="610" height="8.5" fill="url(#hr29)"/>
<rect x="296" y="518" width="610" height="8.5" fill="url(#hr30)"/>
<rect x="296" y="526" width="610" height="8.5" fill="url(#hr31)"/>
<rect x="296" y="534" width="610" height="8.5" fill="url(#hr32)"/>
<rect x="296" y="542" width="610" height="8.5" fill="url(#hr33)"/>
<rect x="296" y="550" width="610" height="8.5" fill="url(#hr34)"/>
<rect x="296" y="558" width="610" height="8.5" fill="url(#hr35)"/>
<rect x="296" y="566" width="610" height="8.5" fill="url(#hr36)"/>
<rect x="296" y="574" width="610" height="8.5" fill="url(#hr37)"/>
<rect x="296" y="582" width="610" height="8.5" fill="url(#hr38)"/>
<rect x="296" y="590" width="610" height="8.5" fill="url(#hr39)"/>
<rect x="296" y="598" width="610" height="8.5" fill="url(#hr40)"/>
<rect x="296" y="606" width="610" height="8.5" fill="url(#hr41)"/>
<rect x="296" y="614" width="610" height="8.5" fill="url(#hr42)"/>
<rect x="296" y="622" width="610" height="8.5" fill="url(#hr43)"/>
<rect x="296" y="630" width="610" height="8.5" fill="url(#hr44)"/>
<rect x="296" y="638" width="610" height="8.5" fill="url(#hr45)"/>
<rect x="296" y="646" width="610" height="8.5" fill="url(#hr46)"/>
<rect x="296" y="654" width="610" height="8.5" fill="url(#hr47)"/>
<rect x="296" y="662" width="610" height="8.5" fill="url(#hr48)"/>
<rect x="296" y="670" width="610" height="8.5" fill="url(#hr49)"/>
<rect x="296" y="678" width="610" height="8.5" fill="url(#hr50)"/>
<rect x="296" y="686" width="610" height="8.5" fill="url(#hr51)"/>
<rect x="296" y="694" width="610" height="8.5" fill="url(#hr52)"/>
<rect x="296" y="702" width="610" height="8.5" fill="url(#hr53)"/>
<rect x="296" y="710" width="610" height="8.5" fill="url(#hr54)"/>
<rect x="296" y="718" width="610" height="8.5" fill="url(#hr55)"/>
<rect x="296" y="726" width="610" height="8.5" fill="url(#hr56)"/>
<rect x="296" y="734" width="610" height="8.5" fill="url(#hr57)"/>
</g>
</g>
<path d="M597.5,263.5 L603,267.5 L609.5,275.5" fill="none" stroke="#f2691c" stroke-width="8.5" stroke-linecap="round" stroke-linejoin="round" filter="url(#blurs)"/>
<path d="M875,284 L880,284 L881,296 L886,298 L886,305 L882,312 L881,326 L874,326 L874,300 Z" fill="url(#streak)" filter="url(#blurs)"/>
<rect x="885" y="157" width="7" height="14" rx="3" fill="#4a84e8" filter="url(#blurs)"/>
<rect x="885" y="203" width="7" height="18" rx="3" fill="#34dcae" filter="url(#blurs)"/>
<rect x="879.5" y="248" width="7" height="15" rx="3" fill="#a8e64a" filter="url(#blurs)"/>
<g fill="#0e6b24" stroke="#000" stroke-width="1.4" stroke-linejoin="round">
<path d="M98.0,148.0 98.0,285.5 101.8,285.5 109.0,281.8 116.4,274.5 123.6,270.0 131.8,266.4 138.2,262.7 141.8,258.2 142.3,255.5 140.0,245.5 136.4,240.9 130.9,238.4 126.4,239.5 122.3,241.4 118.2,243.2 114.5,243.3 112.7,241.4 112.7,237.3 118.2,232.7 123.6,226.4 129.1,223.2 136.4,221.6 147.3,221.1 150.9,222.3 151.8,224.5 149.5,225.5 148.6,229.1 152.3,229.3 153.2,226.8 159.1,226.6 160.5,229.5 163.6,228.6 169.1,228.6 167.3,230.5 163.6,231.8 161.8,234.4 165.5,234.5 170.0,237.3 175.5,238.9 184.5,238.9 184.5,240.0 175.5,240.0 172.3,241.4 171.4,245.0 166.4,245.9 161.8,246.4 160.0,249.1 159.5,253.6 160.0,259.1 160.5,261.4 163.6,262.5 169.1,262.0 175.5,260.0 184.5,256.8 187.3,256.4 201.8,251.8 220.0,246.4 238.2,240.6 249.1,236.8 258.2,233.2 265.5,231.4 271.8,229.1 273.2,233.6 271.8,237.3 274.5,239.5 275.9,237.3 278.2,235.5 281.4,233.6 279.1,230.0 280.0,227.3 283.6,225.0 290.9,222.7 300.0,220.9 314.5,217.3 329.1,215.1 345.5,213.3 363.6,211.8 381.8,211.5 394.5,212.7 401.8,213.6 409.1,213.6 410.0,208.2 405.5,203.6 401.8,200.9 396.4,199.1 390.9,199.5 383.6,199.5 380.0,197.6 374.5,195.1 370.0,195.5 367.3,193.6 366.9,190.9 369.1,189.5 371.8,190.4 372.7,192.7 378.2,192.2 384.5,193.6 390.9,194.5 398.2,193.6 400.9,194.5 401.8,190.9 407.3,190.9 413.6,189.1 417.3,192.7 412.7,194.5 416.4,197.6 423.6,202.7 432.7,207.3 441.8,210.9 450.9,214.5 458.2,217.3 456.4,219.1 449.1,217.6 441.8,215.5 435.5,214.5 438.2,216.9 445.5,220.0 452.7,223.6 460.0,228.2 465.5,231.8 470.9,235.5 478.2,239.1 489.1,240.4 500.0,239.6 505.5,237.5 510.9,233.1 516.4,230.4 520.7,228.7 527.3,229.3 533.8,229.3 538.2,227.6 543.6,225.5 548.0,223.3 550.7,222.2 549.0,226.0 550.0,233.0 553.0,234.0 556.0,232.0 561.0,229.0 565.0,226.0 566.5,228.0 568.7,233.1 570.9,235.8 574.2,238.0 576.4,238.5 578.0,239.6 582.9,240.2 590.5,239.6 598.2,240.4 601.5,243.5 604.2,246.2 607.5,244.0 609.1,248.9 609.6,255.5 609.4,258.7 611.8,259.3 612.9,255.5 612.4,252.2 614.0,251.1 615.5,252.5 620.9,254.0 626.4,254.2 631.8,253.1 637.3,249.8 641.6,246.5 644.9,242.2 646.5,237.8 646.5,234.0 644.9,230.2 641.6,227.5 644.9,228.5 647.1,232.4 648.7,234.0 653.6,233.5 663.5,234.5 663.5,238.9 665.6,241.1 669.5,239.8 673.3,237.3 677.6,235.1 680.9,232.4 682.9,230.2 680.9,229.3 678.2,231.8 676.0,233.5 674.4,231.3 674.4,226.9 672.7,222.5 670.0,220.9 666.7,219.8 665.4,217.6 666.7,215.1 669.5,214.7 672.2,216.5 674.4,214.4 677.6,212.7 680.9,213.3 682.0,216.0 679.8,217.6 676.5,219.8 677.6,221.2 680.9,219.3 684.2,216.5 686.4,214.9 685.3,212.7 687.5,210.5 690.7,208.6 691.3,211.1 689.6,213.8 690.7,214.9 692.9,212.2 694.5,208.4 696.2,204.5 698.4,203.5 700.0,203.6 705.5,204.7 710.9,206.4 716.4,209.8 719.8,213.9 717.7,215.9 719.1,218.0 721.1,216.6 721.1,220.7 722.5,223.4 725.2,223.8 727.3,220.0 729.3,215.9 732.7,213.5 735.5,213.2 739.5,215.2 745.0,215.9 750.5,217.3 755.9,218.6 761.4,220.7 768.2,222.7 773.6,224.8 778.4,228.2 784.5,227.5 792.7,227.2 791.6,233.6 790.0,237.7 787.3,238.4 786.6,242.5 788.0,245.9 787.3,250.7 789.3,254.1 794.1,253.0 800.9,250.7 809.1,248.4 815.9,245.9 817.3,250.0 816.6,252.7 820.0,254.1 823.4,253.4 825.5,248.6 829.5,243.2 834.3,235.0 837.7,225.5 839.4,215.9 840.5,203.6 842.5,190.0 842.6,189.1 839.8,179.8 837.9,178.0 842.6,174.2 843.5,168.6 846.3,164.0 844.4,159.3 842.6,151.9 842.6,148.0Z"/>
<path d="M394.2,212.7 401.8,215.5 412.7,220.0 423.6,224.5 431.8,230.0 432.4,231.5 427.3,230.0 418.2,225.5 409.1,220.9 400.0,216.9 394.5,214.5Z"/>
<path d="M380.0,194.5 385.5,193.3 390.9,195.1 396.4,195.1 400.9,196.4 399.1,198.7 393.6,197.6 387.3,197.6 382.7,196.9Z"/>
<path d="M335.5,313.6 341.8,312.7 352.7,311.8 363.6,310.0 372.7,309.1 373.6,310.9 367.3,313.6 358.2,315.8 347.3,317.3 339.1,316.9 336.0,315.1Z"/>
<path d="M382.7,306.4 387.3,303.6 390.9,298.2 396.4,296.4 402.7,295.5 403.3,296.9 398.2,300.0 392.7,302.7 387.3,306.4 383.6,307.8Z"/>
<path d="M240.2,303.8 248.2,302.7 259.1,302.4 267.8,303.1 273.6,302.7 279.5,303.1 282.4,304.2 285.3,300.5 287.5,296.9 288.9,294.4 291.8,293.6 293.6,295.1 292.2,299.1 290.4,304.2 287.5,308.5 283.8,312.9 280.2,317.3 276.5,319.8 274.4,319.5 276.5,316.5 278.7,313.6 276.5,312.5 272.2,313.3 267.1,314.4 264.2,313.3 265.6,310.7 269.3,309.6 266.4,307.8 259.1,306.7 251.8,306.0 244.5,305.3 240.5,304.5Z"/>
<path d="M456.8,295.5 461.4,294.1 468.2,295.5 477.3,294.8 486.4,293.6 489.8,290.9 495.5,291.4 500.0,294.1 509.1,295.9 518.2,298.6 529.5,300.9 540.9,302.7 552.3,304.5 563.6,306.1 572.7,306.8 580.7,305.5 584.1,306.1 582.3,308.4 575.0,310.0 563.6,310.7 552.3,309.5 540.9,307.7 529.5,306.1 518.2,303.9 509.1,301.6 500.0,298.2 490.9,297.0 481.8,298.6 472.7,299.3 463.6,298.2 458.0,297.0Z"/>
<path d="M613.6,314.1 622.7,315.9 631.8,318.6 640.9,320.5 647.7,318.6 654.5,316.4 663.6,315.2 671.6,314.1 672.7,316.4 665.9,319.1 654.5,320.9 645.5,323.6 638.6,323.6 629.5,321.4 620.5,319.1 613.6,316.8Z"/>
<path d="M603.4,308.4 605.7,306.8 608.0,308.4 606.4,310.7 604.1,310.0Z"/>
<path d="M562.7,242.4 565.5,241.3 570.9,240.7 575.8,240.4 577.5,243.5 578.5,247.3 581.8,251.1 586.2,255.5 587.8,257.6 586.2,258.5 583.5,256.0 580.2,252.7 576.4,253.1 572.0,252.7 567.6,250.5 564.4,247.3 563.1,244.0Z"/>
<path d="M588.4,260.4 591.1,259.3 592.7,260.9 591.1,262.9 588.9,262.2Z"/>
<path d="M562.2,263.6 564.4,263.3 566.5,265.3 568.7,267.5 566.5,269.4 564.4,268.5 562.7,265.8Z"/>
<path d="M549.5,226.5 553.0,225.0 557.0,226.5 559.0,229.0 556.5,232.0 552.0,233.5 549.8,231.5Z"/>
<path d="M561.0,224.5 564.5,222.5 566.5,224.5 565.0,227.5 562.0,228.5Z"/>
<path d="M544.5,226.0 548.0,223.5 549.0,226.0 546.5,229.0 544.2,228.8Z"/>
<path d="M701.1,211.6 704.9,211.1 709.8,212.0 709.8,213.3 704.9,213.6 701.4,212.9Z"/>
<path d="M649.8,250.4 652.0,249.3 655.3,250.4 655.3,251.8 652.0,252.5 650.1,251.8Z"/>
<path d="M749.8,224.8 752.5,224.1 755.2,223.8 754.5,228.2 753.9,233.6 755.2,239.1 755.6,244.5 755.2,250.0 752.5,250.7 751.1,247.3 749.8,244.5 747.0,243.9 748.4,241.8 750.2,240.5 748.4,237.0 749.8,233.6 750.2,229.5Z"/>
<path d="M769.5,251.4 772.3,250.4 775.7,251.1 774.7,253.0 771.6,253.6 769.5,252.7Z"/>
<path d="M778.4,251.6 780.5,251.1 781.8,253.0 780.5,254.4 778.8,253.4Z"/>
<path d="M783.3,244.6 785.3,244.6 785.5,246.6 783.3,246.6Z"/>
<path d="M731.1,222.7 733.4,222.7 733.4,223.9 731.1,223.9Z"/>
<path d="M735.7,213.5 738.0,213.2 740.2,214.8 739.0,215.9 736.5,215.2Z"/>
<path d="M809.5,239.7 811.1,239.4 814.3,243.4 813.7,244.9 811.8,243.4 809.9,241.1Z"/>
<path d="M821.1,265.5 823.2,265.1 824.0,267.4 822.5,268.6 821.4,267.4Z"/>
<path d="M824.6,270.8 828.0,270.8 832.6,274.3 838.3,278.3 844.0,282.3 849.7,286.3 853.1,288.6 850.8,289.7 845.1,287.4 839.4,284.0 833.7,280.0 829.1,276.6 825.7,273.1Z"/>
<path d="M715.3,302.2 718.2,300.7 723.3,301.5 732.0,302.2 742.2,300.0 749.5,298.1 758.2,296.1 769.8,294.2 781.5,292.7 798.9,291.3 816.4,289.8 825.1,289.1 826.5,286.9 824.4,285.5 828.0,285.9 831.6,284.0 835.3,283.3 837.5,286.2 844.0,287.6 851.3,289.1 852.0,293.5 845.5,296.1 836.7,297.1 828.0,296.1 819.3,294.9 801.8,293.7 790.2,294.9 778.5,296.4 768.4,298.1 758.2,300.0 748.0,302.2 739.3,304.1 730.5,305.8 723.3,305.4 717.5,304.4Z"/>
<path d="M882.3,306.9 883.4,303.4 887.4,301.7 893.1,301.1 901.1,300.9 901.1,306.1 894.3,307.4 888.5,309.1 884.0,309.5Z"/>
<path d="M841.1,312.0 842.8,310.9 845.7,312.6 849.7,316.0 854.3,318.6 860.0,319.2 863.6,319.8 863.4,321.4 860.0,321.4 854.3,320.6 849.1,318.3 845.1,315.4 842.3,313.7Z"/>
<path d="M869.1,320.6 870.8,318.8 873.1,317.9 873.9,319.4 872.3,321.4 870.3,322.0Z"/>
<path d="M208.2,355.4 210.7,352.8 213.9,349.0 216.5,344.5 219.6,342.4 224.1,343.3 225.0,347.1 222.2,350.3 219.0,350.9 216.5,354.1 212.0,356.6 208.8,357.3Z"/>
<path d="M199.9,347.7 201.8,347.1 208.2,353.5 206.9,354.7 201.8,350.3Z"/>
<path d="M195.5,362.4 198.0,359.8 202.5,356.6 206.3,356.9 209.5,358.5 207.5,362.4 204.4,366.2 200.5,366.8 198.6,368.1 196.1,365.5Z"/>
<path d="M124.2,404.4 129.3,402.5 135.6,400.5 143.3,398.6 147.7,396.1 148.4,392.9 152.8,391.6 153.5,384.6 156.0,382.1 157.9,385.3 157.3,391.0 161.1,389.7 159.8,385.9 163.6,384.6 167.5,385.9 169.4,389.7 172.5,388.5 171.3,384.6 166.2,382.7 159.8,380.6 166.2,377.6 171.3,374.5 176.4,371.3 181.5,368.7 184.6,367.8 187.2,365.5 190.4,365.5 190.6,370.0 188.5,373.2 187.8,377.6 192.3,379.5 196.7,378.3 199.3,377.6 199.5,382.1 200.5,385.9 202.5,389.7 202.8,394.8 201.2,398.6 200.5,402.5 204.4,400.5 208.2,398.0 209.2,394.2 212.0,394.8 212.6,398.6 215.8,399.9 218.4,395.5 220.3,398.6 226.0,397.1 230.5,399.3 229.8,401.2 224.7,402.5 220.3,403.1 219.0,407.5 217.1,411.4 213.3,413.9 210.1,416.5 208.2,421.5 206.3,424.1 205.0,420.3 206.9,416.5 204.4,413.3 201.8,416.5 198.0,419.0 200.5,422.8 203.1,425.4 208.2,427.3 213.3,433.0 210.7,435.5 206.9,440.0 201.8,440.6 203.7,435.5 198.0,434.3 196.7,431.7 200.5,429.2 199.3,426.0 196.1,421.5 192.9,417.7 191.0,413.9 191.6,410.1 189.1,407.5 186.5,403.7 184.6,401.2 181.5,401.2 176.4,398.0 171.3,398.6 167.5,401.2 166.2,406.3 168.1,410.1 172.5,406.9 177.6,403.1 180.8,405.6 176.4,410.1 172.5,415.2 171.9,421.5 170.0,422.8 166.8,417.7 164.3,412.6 163.0,407.5 163.0,401.8 159.8,400.5 157.3,403.7 158.5,408.8 159.2,414.5 156.0,412.6 152.2,412.6 150.3,410.1 150.9,406.9 147.1,405.0 143.9,406.3 140.7,410.1 138.8,414.5 136.3,411.4 136.9,407.5 133.7,405.0 129.3,404.7 124.8,405.6Z"/>
<path d="M145.2,406.9 147.7,406.3 148.4,410.1 145.8,410.7Z"/>
<path d="M146.5,414.5 149.0,413.9 150.3,417.1 147.7,418.4Z"/>
<path d="M130.5,408.2 133.7,408.2 133.7,409.5 130.5,409.5Z"/>
<path d="M101.3,406.3 106.4,404.7 112.1,404.4 116.5,405.0 115.9,408.2 112.7,410.1 115.3,412.6 115.9,415.8 112.1,416.5 107.6,415.2 105.1,418.4 101.3,417.7Z"/>
<path d="M109.5,429.2 111.5,426.0 114.0,425.4 115.9,428.5 120.4,429.8 124.2,431.1 126.7,433.6 124.8,434.5 120.4,434.3 116.5,432.4 113.4,433.0 110.8,433.6 109.5,431.7Z"/>
<path d="M142.0,432.7 145.2,432.4 148.4,433.6 150.3,434.5 144.5,434.5 142.6,434.0Z"/>
<path d="M155.4,430.5 157.9,430.2 157.9,433.6 155.7,433.6Z"/>
<path d="M161.1,432.7 164.3,432.4 166.2,434.5 162.4,434.5Z"/>
<path d="M220.3,416.5 222.2,413.9 226.0,410.7 229.8,408.8 231.7,410.1 228.5,413.3 224.7,416.5 221.5,418.0Z"/>
<path d="M131.8,438.9 136.3,438.3 136.9,442.7 138.2,446.5 135.6,449.7 131.8,451.0 129.9,449.1 130.5,445.3 132.5,442.7Z"/>
<path d="M117.2,447.2 120.4,445.3 123.5,446.5 125.5,450.4 129.3,451.0 127.4,455.5 126.7,460.5 122.9,463.7 121.6,468.2 119.7,465.6 117.8,462.5 120.4,459.3 121.0,454.8 118.5,451.6Z"/>
<path d="M101.3,456.1 105.1,457.4 108.9,454.8 112.7,454.2 111.5,458.6 107.6,461.2 103.8,461.8 101.3,461.2Z"/>
<path d="M133.7,455.5 138.2,456.1 139.5,458.6 136.9,460.5 133.7,459.3Z"/>
<path d="M140.7,461.2 143.9,459.9 145.2,455.5 149.0,453.5 152.2,453.5 150.9,456.7 147.7,458.6 146.5,463.7 143.3,466.9 140.7,465.6Z"/>
<path d="M138.2,486.0 142.0,481.5 144.5,480.3 148.4,476.5 151.5,472.6 154.7,468.2 157.3,463.1 159.8,458.6 163.6,454.2 167.5,450.4 169.4,446.5 170.0,441.5 171.9,438.9 175.1,440.8 173.8,445.3 173.8,450.4 171.3,455.5 169.4,460.5 168.7,465.0 164.9,465.6 162.4,468.2 158.5,470.7 155.4,474.5 152.2,478.4 149.0,482.2 144.5,484.7 143.3,486.6Z"/>
<path d="M175.1,446.5 178.3,444.0 180.2,438.9 181.5,437.0 184.6,437.6 184.6,454.2 181.5,454.8 178.9,451.6 179.5,448.5 176.4,448.5Z"/>
<path d="M156.6,438.9 159.8,437.6 163.6,437.0 165.5,438.9 162.4,440.8 158.5,441.5Z"/>
<path d="M145.2,491.1 148.4,487.9 153.5,486.0 157.3,482.8 162.4,480.3 166.2,475.8 169.4,472.0 172.5,468.8 177.6,466.3 181.5,463.1 184.6,461.2 187.8,459.3 191.6,456.1 195.5,452.9 194.8,449.7 198.0,449.1 200.5,452.9 198.6,456.1 194.8,457.4 191.6,459.9 187.8,463.1 185.3,466.9 181.5,469.5 176.4,470.7 181.5,472.6 184.6,473.9 184.0,476.5 178.9,475.8 173.8,475.8 170.0,477.7 166.2,480.9 161.1,483.5 159.2,486.6 154.7,488.5 150.9,491.1 147.1,493.0Z"/>
<path d="M186.5,466.9 191.6,465.6 194.8,466.3 192.9,470.7 194.8,474.5 195.5,477.7 191.6,476.5 187.8,474.5 185.9,472.0Z"/>
<path d="M175.1,480.9 178.9,479.9 182.7,480.9 184.6,484.7 181.5,484.1 177.6,483.5Z"/>
<path d="M150.3,496.2 153.5,493.6 157.9,490.5 161.1,488.5 162.4,489.8 159.2,493.0 156.0,495.5 152.2,498.1Z"/>
<path d="M136.3,499.4 139.5,496.2 143.3,494.9 145.8,496.8 143.3,500.0 138.8,501.9Z"/>
<path d="M208.2,458.6 212.0,456.7 216.5,456.1 220.3,459.3 217.1,461.8 212.6,462.5Z"/>
<path d="M205.6,468.2 209.5,467.5 213.3,470.1 214.5,473.9 211.4,477.1 208.8,475.8 212.0,473.3 210.1,470.7 206.9,470.1Z"/>
<path d="M197.4,496.2 201.8,494.3 208.2,493.4 215.2,494.3 214.5,496.8 209.5,497.5 206.9,499.4 203.1,497.5 198.6,498.1Z"/>
<path d="M177.0,499.4 181.5,501.3 184.6,503.2 189.1,500.6 192.9,499.7 192.7,505.1 189.1,507.6 184.6,507.0 181.5,504.5 178.3,501.9Z"/>
<path d="M99.4,463.1 101.3,463.1 105.1,465.6 108.9,468.2 111.5,472.0 112.1,477.1 112.7,483.5 114.6,489.8 116.5,493.6 112.7,494.9 108.9,499.4 114.0,498.7 119.1,499.4 124.2,497.5 127.4,492.4 126.7,486.6 130.5,485.4 135.6,487.9 138.2,489.8 134.4,492.4 132.5,496.2 135.0,499.4 132.5,501.9 129.3,503.8 133.1,505.1 136.9,507.0 140.7,511.5 145.8,512.7 150.9,511.5 148.4,507.6 149.6,503.8 154.7,503.2 158.5,505.1 162.4,503.8 166.2,503.2 170.0,505.1 173.8,508.3 176.4,505.7 179.5,506.4 182.7,508.9 181.5,512.7 176.4,513.4 173.8,516.5 174.5,520.4 171.3,522.9 166.8,522.3 163.0,521.0 162.4,517.8 157.9,516.5 153.5,517.8 150.3,519.1 146.5,522.9 143.3,524.8 147.1,530.5 150.9,535.6 152.8,540.7 150.3,540.1 146.5,536.9 142.0,536.3 138.2,533.1 135.6,529.3 132.5,527.4 134.4,524.2 131.8,521.6 131.2,518.5 127.4,516.5 125.5,519.1 121.6,522.9 116.5,524.8 111.5,526.1 107.6,528.0 101.3,528.0 99.4,528.0Z"/>
<path d="M149.6,524.2 153.5,522.9 156.6,526.7 158.5,531.2 156.0,533.1 154.1,529.3 151.5,527.4Z"/>
<path d="M99.4,531.2 101.3,531.2 105.1,529.9 108.9,531.8 107.6,535.0 103.8,535.6 101.3,535.0 99.4,535.0Z"/>
<path d="M99.4,538.5 101.3,538.5 107.6,537.2 114.0,535.3 119.1,533.7 122.9,535.9 128.0,538.5 132.5,542.3 129.3,544.2 124.2,542.9 119.1,543.5 114.0,542.3 108.9,541.6 103.8,541.0 101.3,540.4 99.4,540.4Z"/>
<path d="M99.4,544.8 101.3,544.8 106.4,546.1 112.7,547.4 119.1,549.9 125.5,549.9 131.2,550.5 135.6,553.7 138.2,556.9 143.3,557.5 148.4,556.3 151.5,553.7 152.8,550.5 158.5,549.3 163.6,546.7 169.4,545.2 170.6,548.6 174.5,550.5 172.5,553.1 169.4,552.5 166.2,550.5 162.4,552.5 159.8,555.6 163.6,557.5 166.8,558.2 163.6,561.4 162.4,565.2 164.9,568.4 169.4,570.3 173.6,572.2 173.2,574.5 169.4,572.8 164.9,572.2 159.8,573.5 154.7,575.4 150.9,572.8 146.5,570.3 144.5,567.1 139.5,563.9 134.4,560.7 129.3,560.1 125.5,561.4 119.1,563.3 115.3,560.7 111.5,558.2 106.4,556.3 101.3,556.9 99.4,556.9Z"/>
<path d="M172.5,536.5 176.4,534.0 181.5,532.7 187.8,532.5 191.6,535.3 189.1,537.8 182.7,538.5 177.6,539.7 173.8,539.1Z"/>
<path d="M112.7,581.7 115.3,579.8 121.6,579.8 128.0,580.8 129.9,583.6 128.6,586.8 124.8,585.9 120.4,583.6 117.2,584.9 117.8,586.8 112.7,587.5 113.4,584.9Z"/>
<path d="M173.8,580.5 177.0,579.8 178.3,583.6 179.9,588.7 178.9,591.5 175.7,590.6 174.1,586.8Z"/>
<path d="M99.4,611.0 101.3,611.0 104.5,613.5 107.6,616.1 106.4,618.3 102.5,617.4 101.3,616.1 99.4,615.5Z"/>
<path d="M270.4,709.5 275.5,706.9 280.9,700.9 286.4,694.5 291.8,689.1 297.3,684.5 302.7,683.3 304.5,684.5 300.0,687.3 294.5,691.8 289.1,698.2 283.6,704.5 278.2,710.0 273.3,712.7 270.4,712.4Z"/>
<path d="M396.5,404.0 400.0,403.8 405.0,407.0 410.0,412.0 415.0,419.0 420.0,427.0 424.0,434.0 427.0,443.0 429.5,452.0 431.5,461.0 433.0,470.0 433.8,479.0 434.0,488.0 433.5,500.0 432.3,505.2 430.2,515.4 427.2,527.4 423.4,538.6 421.3,543.6 419.1,549.1 415.5,558.2 410.9,567.3 405.5,576.4 400.9,583.6 393.6,592.7 386.4,601.8 379.1,610.0 371.8,617.3 364.5,625.5 359.1,630.5 358.2,628.2 360.0,623.6 362.7,620.0 368.2,616.4 372.7,611.8 379.1,607.3 383.6,600.0 388.2,594.5 393.6,588.2 397.3,582.7 400.9,577.3 402.7,572.7 403.6,565.5 406.4,560.9 404.5,557.3 402.7,554.5 405.5,552.7 410.0,553.6 413.6,549.1 410.9,546.4 408.2,545.5 410.0,542.7 415.5,541.8 416.9,540.0 417.7,535.2 419.4,530.9 421.2,524.0 423.7,517.2 420.3,513.7 416.9,512.9 419.4,510.3 424.6,508.6 425.4,500.0 426.0,500.0 424.5,495.0 425.5,491.0 425.0,487.0 427.0,484.0 426.5,480.0 424.5,477.0 425.5,474.0 424.0,471.0 425.0,468.5 422.0,467.5 420.5,465.5 423.0,464.0 425.0,462.0 422.5,460.0 419.0,459.5 420.0,456.5 422.0,454.0 421.5,451.0 423.0,449.0 421.0,446.0 419.5,443.0 419.0,440.0 417.5,437.0 417.0,433.5 414.5,432.0 415.5,429.0 414.5,425.5 412.5,423.0 410.0,420.0 409.0,417.5 406.0,414.0 404.0,411.0 400.5,408.0 397.5,406.0Z"/>
<path d="M368.0,518.9 370.6,514.6 375.7,510.3 380.9,506.0 387.7,500.9 392.9,494.9 396.3,492.3 400.6,494.0 401.4,500.0 399.7,506.9 396.3,508.6 395.4,503.4 396.3,498.3 392.9,500.0 389.4,504.3 384.3,507.7 379.1,512.0 374.0,515.4 369.7,520.6Z"/>
<path d="M397.1,517.2 401.4,514.6 404.9,512.4 407.4,514.6 408.6,522.3 405.7,523.7 404.5,517.2 401.4,518.0 398.0,520.6 396.3,518.9Z"/>
<path d="M336.3,554.9 337.1,548.0 338.9,541.2 340.6,537.7 343.1,538.6 345.7,542.0 344.9,544.2 341.4,542.9 340.6,547.2 339.7,553.2 338.0,558.3 335.9,557.4Z"/>
<path d="M337.3,647.3 340.0,643.6 342.7,640.9 348.2,639.1 351.8,637.3 352.7,639.1 349.1,641.8 344.5,645.5 340.0,648.7Z"/>
<path d="M330.0,651.8 332.7,650.4 334.5,651.8 332.7,653.6 330.4,653.6Z"/>
</g>
<g fill="#808080" stroke="#000" stroke-width="0.9" stroke-linejoin="round">
<path d="M551.3,219.5 552.4,211.8 551.3,206.4 550.4,200.9 552.1,199.6 554.0,202.0 555.6,206.4 557.3,209.6 555.1,214.0 554.5,219.5 555.6,224.9 552.0,224.5Z"/>
<path d="M815.9,246.2 818.6,243.9 820.0,239.1 823.4,237.0 824.8,240.5 822.7,244.5 820.0,248.6 817.6,250.7Z"/>
<path d="M717.9,215.2 719.3,214.6 720.4,216.2 719.3,217.8 718.1,217.2Z"/>
<path d="M179.5,385.3 184.0,384.6 184.6,392.3 181.5,391.6 178.3,389.7Z"/>
<path d="M191.6,385.9 196.7,385.3 198.0,388.5 194.2,392.3 194.8,396.1 191.6,399.9 188.5,399.3 187.8,393.5 190.4,389.7Z"/>
<path d="M202.5,414.5 205.6,411.4 208.2,413.3 205.6,416.5 203.1,417.1Z"/>
<path d="M102.5,410.7 105.1,410.1 105.7,413.3 102.5,413.9Z"/>
<path d="M121.6,505.1 124.2,504.8 124.2,507.4 121.6,507.4Z"/>
<path d="M153.5,512.7 159.2,513.4 159.2,515.3 154.1,515.3Z"/>
</g>
<g fill="none" stroke="#000" stroke-width="1" stroke-linejoin="round" stroke-linecap="round">
<path d="M101.8,243.5 105.5,243.8 110.0,245.0 113.6,244.4 118.2,243.2"/>
<path d="M175.5,239.4 185.5,239.4"/>
<path d="M576.9,233.6 576.9,238.5"/>
<path d="M607.5,244.0 609.1,239.1 610.7,234.7"/>
<path d="M792.7,226.9 798.9,226.8"/>
<path d="M273.5,231.0 275.5,236.5"/>
<path d="M276.0,230.0 278.0,235.0"/>
<path d="M278.0,229.0 280.5,233.0"/>
<path d="M544.5,227.5 548.0,225.0 551.0,223.0"/>
<path d="M546.0,229.5 549.5,227.0"/>
<path d="M555.0,226.0 557.0,230.0"/>
<path d="M559.0,224.0 561.0,228.0"/>
</g>
<g fill="#03180a">
<circle cx="213.9" cy="371.3" r="1.45"/>
<circle cx="227.7" cy="369.4" r="1.45"/>
<circle cx="205.0" cy="383.7" r="1.35"/>
<circle cx="174.5" cy="428.9" r="1.65"/>
<circle cx="181.5" cy="408.6" r="1.15"/>
<circle cx="226.4" cy="459.0" r="1.35"/>
<circle cx="228.8" cy="489.8" r="1.65"/>
<circle cx="192.3" cy="496.6" r="1.25"/>
<circle cx="126.7" cy="528.0" r="1.35"/>
<circle cx="112.1" cy="472.4" r="1.25"/>
<circle cx="130.5" cy="546.1" r="1.35"/>
<circle cx="113.7" cy="577.5" r="1.15"/>
<circle cx="392.5" cy="516.3" r="1.25"/>
<circle cx="341.8" cy="532.6" r="1.35"/>
<circle cx="354.0" cy="629.5" r="1.25"/>
<circle cx="354.5" cy="634.5" r="1.25"/>
<circle cx="226.0" cy="459.0" r="1.35"/>
<circle cx="228.7" cy="490.0" r="1.55"/>
</g>
<g fill="#000" stroke="#000" stroke-width="0.4" stroke-linejoin="miter">
<path d="M375.5,325.0 L387.9,315.6 L389.5,320.5 L391.1,325.3Z"/>
<path d="M425.1,310.3 L440.3,313.8 L437.5,318.1 L434.8,322.5Z"/>
<path d="M443.1,321.6 L437.5,318.1" stroke-width="1.5" fill="none"/>
<path d="M491.3,311.5 L504.8,319.2 L501.0,322.6 L497.1,325.9Z"/>
<path d="M575.2,320.5 L560.9,326.5 L560.5,321.4 L560.2,316.3Z"/>
<path d="M557.3,321.6 L560.5,321.4" stroke-width="1.5" fill="none"/>
<path d="M726.8,311.5 L734.4,325.1 L729.4,326.0 L724.4,326.9Z"/>
<path d="M813.9,319.7 L799.6,325.8 L799.2,320.7 L798.9,315.6Z"/>
<path d="M785.7,321.6 L799.2,320.7" stroke-width="1.5" fill="none"/>
<path d="M888.3,313.1 L903.2,317.7 L900.2,321.8 L897.1,325.9Z"/>
<path d="M361.5,367.5 L377.0,369.0 L374.9,373.6 L372.7,378.3Z"/>
<path d="M386.0,378.7 L374.9,373.6" stroke-width="1.5" fill="none"/>
<path d="M430.9,363.2 L444.0,371.6 L440.0,374.8 L435.9,377.9Z"/>
<path d="M443.1,378.7 L440.0,374.8" stroke-width="1.5" fill="none"/>
<path d="M487.9,354.0 L499.0,364.9 L494.4,367.2 L489.9,369.4Z"/>
<path d="M500.2,378.7 L494.4,367.2" stroke-width="1.5" fill="none"/>
<path d="M557.4,362.4 L562.4,377.1 L557.3,377.1 L552.2,377.1Z"/>
<path d="M557.3,378.7 L557.3,377.1" stroke-width="1.5" fill="none"/>
<path d="M636.5,378.2 L621.9,383.7 L621.8,378.6 L621.7,373.5Z"/>
<path d="M614.4,378.7 L621.8,378.6" stroke-width="1.5" fill="none"/>
<path d="M691.7,380.3 L676.7,384.3 L677.0,379.2 L677.4,374.1Z"/>
<path d="M671.5,378.7 L677.0,379.2" stroke-width="1.5" fill="none"/>
<path d="M745.1,372.6 L733.1,382.5 L731.3,377.7 L729.5,373.0Z"/>
<path d="M728.6,378.7 L731.3,377.7" stroke-width="1.5" fill="none"/>
<path d="M804.4,370.8 L792.9,381.2 L790.9,376.6 L788.9,371.9Z"/>
<path d="M785.7,378.7 L790.9,376.6" stroke-width="1.5" fill="none"/>
<path d="M868.1,377.7 L853.6,383.4 L853.4,378.3 L853.2,373.2Z"/>
<path d="M842.8,378.7 L853.4,378.3" stroke-width="1.5" fill="none"/>
<path d="M441.6,419.1 L448.0,433.3 L442.9,433.7 L437.8,434.2Z"/>
<path d="M443.1,435.9 L442.9,433.7" stroke-width="1.5" fill="none"/>
<path d="M483.1,415.3 L496.4,423.3 L492.5,426.6 L488.6,429.9Z"/>
<path d="M500.2,435.9 L492.5,426.6" stroke-width="1.5" fill="none"/>
<path d="M535.8,424.2 L551.2,426.7 L548.7,431.2 L546.3,435.7Z"/>
<path d="M557.3,435.9 L548.7,431.2" stroke-width="1.5" fill="none"/>
<path d="M598.2,431.1 L613.7,430.3 L612.3,435.2 L610.9,440.1Z"/>
<path d="M614.4,435.9 L612.3,435.2" stroke-width="1.5" fill="none"/>
<path d="M663.1,429.3 L677.8,434.3 L674.7,438.3 L671.6,442.4Z"/>
<path d="M724.4,425.6 L734.7,437.3 L730.0,439.2 L725.3,441.1Z"/>
<path d="M796.0,431.4 L784.5,441.9 L782.5,437.2 L780.5,432.6Z"/>
<path d="M861.0,432.0 L847.7,440.0 L846.6,435.0 L845.6,430.1Z"/>
<path d="M842.8,435.9 L846.6,435.0" stroke-width="1.5" fill="none"/>
<path d="M485.7,477.1 L499.4,484.5 L495.6,488.0 L491.8,491.4Z"/>
<path d="M500.2,493.0 L495.6,488.0" stroke-width="1.5" fill="none"/>
<path d="M537.1,480.2 L552.3,483.7 L549.5,488.1 L546.8,492.4Z"/>
<path d="M557.3,493.0 L549.5,488.1" stroke-width="1.5" fill="none"/>
<path d="M594.3,487.8 L609.8,486.5 L608.5,491.5 L607.3,496.4Z"/>
<path d="M614.4,493.0 L608.5,491.5" stroke-width="1.5" fill="none"/>
<path d="M655.4,484.0 L670.7,486.7 L668.2,491.1 L665.8,495.6Z"/>
<path d="M671.5,493.0 L668.2,491.1" stroke-width="1.5" fill="none"/>
<path d="M717.0,484.4 L731.9,489.0 L728.8,493.1 L725.8,497.2Z"/>
<path d="M779.4,482.4 L791.3,492.4 L786.9,495.0 L782.6,497.6Z"/>
<path d="M831.6,490.0 L847.1,488.8 L845.8,493.7 L844.5,498.7Z"/>
<path d="M890.0,501.0 L898.2,487.8 L901.4,491.8 L904.6,495.7Z"/>
<path d="M454.4,562.8 L440.8,555.2 L444.6,551.8 L448.4,548.4Z"/>
<path d="M443.1,550.1 L444.6,551.8" stroke-width="1.5" fill="none"/>
<path d="M479.8,548.1 L494.9,544.4 L494.4,549.5 L493.9,554.6Z"/>
<path d="M500.2,550.1 L494.4,549.5" stroke-width="1.5" fill="none"/>
<path d="M538.4,535.4 L553.1,540.4 L550.0,544.4 L546.9,548.4Z"/>
<path d="M557.3,550.1 L550.0,544.4" stroke-width="1.5" fill="none"/>
<path d="M599.4,539.2 L614.3,543.7 L611.3,547.8 L608.3,552.0Z"/>
<path d="M614.4,550.1 L611.3,547.8" stroke-width="1.5" fill="none"/>
<path d="M669.9,536.6 L676.7,550.6 L671.6,551.2 L666.6,551.8Z"/>
<path d="M749.0,540.4 L737.9,551.3 L735.7,546.7 L733.5,542.1Z"/>
<path d="M728.6,550.1 L735.7,546.7" stroke-width="1.5" fill="none"/>
<path d="M809.6,546.0 L796.0,553.5 L795.1,548.5 L794.3,543.4Z"/>
<path d="M785.7,550.1 L795.1,548.5" stroke-width="1.5" fill="none"/>
<path d="M857.6,555.6 L842.0,555.2 L843.8,550.4 L845.6,545.7Z"/>
<path d="M842.8,550.1 L843.8,550.4" stroke-width="1.5" fill="none"/>
<path d="M448.0,619.9 L437.9,608.0 L442.7,606.2 L447.4,604.4Z"/>
<path d="M480.6,612.2 L493.6,603.6 L494.8,608.5 L496.1,613.5Z"/>
<path d="M500.2,607.2 L494.8,608.5" stroke-width="1.5" fill="none"/>
<path d="M537.6,592.6 L552.4,597.3 L549.4,601.4 L546.4,605.4Z"/>
<path d="M557.3,607.2 L549.4,601.4" stroke-width="1.5" fill="none"/>
<path d="M609.6,586.8 L617.9,599.9 L613.0,601.1 L608.0,602.3Z"/>
<path d="M614.4,607.2 L613.0,601.1" stroke-width="1.5" fill="none"/>
<path d="M686.7,598.2 L676.6,610.1 L674.0,605.7 L671.4,601.3Z"/>
<path d="M671.5,607.2 L674.0,605.7" stroke-width="1.5" fill="none"/>
<path d="M751.6,602.0 L738.4,610.2 L737.3,605.2 L736.1,600.3Z"/>
<path d="M728.6,607.2 L737.3,605.2" stroke-width="1.5" fill="none"/>
<path d="M804.0,596.4 L793.9,608.3 L791.3,603.9 L788.7,599.5Z"/>
<path d="M785.7,607.2 L791.3,603.9" stroke-width="1.5" fill="none"/>
<path d="M854.4,591.4 L849.8,606.3 L845.7,603.3 L841.6,600.2Z"/>
<path d="M842.8,607.2 L845.7,603.3" stroke-width="1.5" fill="none"/>
<path d="M386.7,651.3 L390.9,666.3 L385.9,666.0 L380.8,665.7Z"/>
<path d="M452.7,675.8 L439.4,667.8 L443.3,664.5 L447.2,661.3Z"/>
<path d="M443.1,664.3 L443.3,664.5" stroke-width="1.5" fill="none"/>
<path d="M478.1,672.8 L490.0,662.8 L491.8,667.5 L493.7,672.3Z"/>
<path d="M500.2,664.3 L491.8,667.5" stroke-width="1.5" fill="none"/>
<path d="M551.4,636.8 L559.5,650.1 L554.5,651.2 L549.5,652.2Z"/>
<path d="M557.3,664.3 L554.5,651.2" stroke-width="1.5" fill="none"/>
<path d="M621.4,641.1 L622.0,656.6 L617.1,655.2 L612.3,653.7Z"/>
<path d="M614.4,664.3 L617.1,655.2" stroke-width="1.5" fill="none"/>
<path d="M695.3,661.4 L681.3,668.2 L680.7,663.2 L680.1,658.1Z"/>
<path d="M671.5,664.3 L680.7,663.2" stroke-width="1.5" fill="none"/>
<path d="M756.4,672.2 L740.9,673.1 L742.3,668.2 L743.7,663.3Z"/>
<path d="M728.6,664.3 L742.3,668.2" stroke-width="1.5" fill="none"/>
<path d="M811.7,668.7 L796.4,671.3 L797.2,666.2 L798.1,661.2Z"/>
<path d="M785.7,664.3 L797.2,666.2" stroke-width="1.5" fill="none"/>
<path d="M862.9,664.3 L848.2,669.4 L848.2,664.3 L848.2,659.2Z"/>
<path d="M842.8,664.3 L848.2,664.3" stroke-width="1.5" fill="none"/>
<path d="M318.5,706.4 L331.0,715.6 L326.8,718.5 L322.6,721.4Z"/>
<path d="M328.8,721.4 L326.8,718.5" stroke-width="1.5" fill="none"/>
<path d="M411.8,715.9 L398.5,723.9 L397.4,719.0 L396.4,714.0Z"/>
<path d="M386.0,721.4 L397.4,719.0" stroke-width="1.5" fill="none"/>
<path d="M500.4,697.6 L505.4,712.3 L500.3,712.3 L495.2,712.3Z"/>
<path d="M500.2,721.4 L500.3,712.3" stroke-width="1.5" fill="none"/>
<path d="M572.2,696.3 L569.1,711.5 L564.7,708.9 L560.3,706.3Z"/>
<path d="M557.3,721.4 L564.7,708.9" stroke-width="1.5" fill="none"/>
<path d="M633.6,705.1 L625.7,718.5 L622.4,714.6 L619.1,710.7Z"/>
<path d="M614.4,721.4 L622.4,714.6" stroke-width="1.5" fill="none"/>
</g>
<g stroke="#fff" stroke-width="1.8" fill="none" opacity="0.58">
<path d="M186.1,150 V722"/>
<path d="M328.8,150 V722"/>
<path d="M471.6,150 V722"/>
<path d="M614.4,150 V722"/>
<path d="M757.2,150 V722"/>
<path d="M100,293.1 H901"/>
<path d="M100,435.9 H901"/>
<path d="M100,578.6 H901"/>
</g>
<g fill="#fff" stroke="#000" stroke-width="1.7">
<circle cx="282.7" cy="286.4" r="6.2"/>
<circle cx="445.4" cy="392.2" r="6.2"/>
<circle cx="566.3" cy="391.7" r="6.2"/>
</g>
<g fill="#ffff0a" stroke="#000" stroke-width="1.8" stroke-linejoin="miter">
<path d="M136.4,249.1 L142.3,243.2 L148.2,249.1 L142.3,255.0Z"/>
<path d="M572.1,224.9 L578.0,219.0 L583.9,224.9 L578.0,230.8Z"/>
<path d="M654.0,230.5 L659.9,224.6 L665.8,230.5 L659.9,236.4Z"/>
<path d="M772.4,287.9 L778.3,282.0 L784.2,287.9 L778.3,293.8Z"/>
<path d="M813.9,259.4 L819.8,253.5 L825.7,259.4 L819.8,265.3Z"/>
<path d="M851.5,292.3 L857.4,286.4 L863.3,292.3 L857.4,298.2Z"/>
<path d="M605.5,314.1 L611.4,308.2 L617.3,314.1 L611.4,320.0Z"/>
</g>
</g>
<g stroke="#000" fill="none">
<rect x="100.4" y="150.3" width="799.6" height="570.9000000000001" stroke-width="3"/>
<g stroke-width="1">
<path d="M100.4,150.3 v-4.5 M100.4,721.2 v4.5"/>
<path d="M114.7,150.3 v-4.5 M114.7,721.2 v4.5"/>
<path d="M129.0,150.3 v-4.5 M129.0,721.2 v4.5"/>
<path d="M143.2,150.3 v-4.5 M143.2,721.2 v4.5"/>
<path d="M157.5,150.3 v-4.5 M157.5,721.2 v4.5"/>
<path d="M171.8,150.3 v-4.5 M171.8,721.2 v4.5"/>
<path d="M186.1,150.3 v-8.5 M186.1,721.2 v8.5" stroke-width="1.3"/>
<path d="M200.3,150.3 v-4.5 M200.3,721.2 v4.5"/>
<path d="M214.6,150.3 v-4.5 M214.6,721.2 v4.5"/>
<path d="M228.9,150.3 v-4.5 M228.9,721.2 v4.5"/>
<path d="M243.2,150.3 v-4.5 M243.2,721.2 v4.5"/>
<path d="M257.5,150.3 v-4.5 M257.5,721.2 v4.5"/>
<path d="M271.7,150.3 v-4.5 M271.7,721.2 v4.5"/>
<path d="M286.0,150.3 v-4.5 M286.0,721.2 v4.5"/>
<path d="M300.3,150.3 v-4.5 M300.3,721.2 v4.5"/>
<path d="M314.6,150.3 v-4.5 M314.6,721.2 v4.5"/>
<path d="M328.8,150.3 v-8.5 M328.8,721.2 v8.5" stroke-width="1.3"/>
<path d="M343.1,150.3 v-4.5 M343.1,721.2 v4.5"/>
<path d="M357.4,150.3 v-4.5 M357.4,721.2 v4.5"/>
<path d="M371.7,150.3 v-4.5 M371.7,721.2 v4.5"/>
<path d="M386.0,150.3 v-4.5 M386.0,721.2 v4.5"/>
<path d="M400.2,150.3 v-4.5 M400.2,721.2 v4.5"/>
<path d="M414.5,150.3 v-4.5 M414.5,721.2 v4.5"/>
<path d="M428.8,150.3 v-4.5 M428.8,721.2 v4.5"/>
<path d="M443.1,150.3 v-4.5 M443.1,721.2 v4.5"/>
<path d="M457.3,150.3 v-4.5 M457.3,721.2 v4.5"/>
<path d="M471.6,150.3 v-8.5 M471.6,721.2 v8.5" stroke-width="1.3"/>
<path d="M485.9,150.3 v-4.5 M485.9,721.2 v4.5"/>
<path d="M500.2,150.3 v-4.5 M500.2,721.2 v4.5"/>
<path d="M514.4,150.3 v-4.5 M514.4,721.2 v4.5"/>
<path d="M528.7,150.3 v-4.5 M528.7,721.2 v4.5"/>
<path d="M543.0,150.3 v-4.5 M543.0,721.2 v4.5"/>
<path d="M557.3,150.3 v-4.5 M557.3,721.2 v4.5"/>
<path d="M571.6,150.3 v-4.5 M571.6,721.2 v4.5"/>
<path d="M585.8,150.3 v-4.5 M585.8,721.2 v4.5"/>
<path d="M600.1,150.3 v-4.5 M600.1,721.2 v4.5"/>
<path d="M614.4,150.3 v-8.5 M614.4,721.2 v8.5" stroke-width="1.3"/>
<path d="M628.7,150.3 v-4.5 M628.7,721.2 v4.5"/>
<path d="M642.9,150.3 v-4.5 M642.9,721.2 v4.5"/>
<path d="M657.2,150.3 v-4.5 M657.2,721.2 v4.5"/>
<path d="M671.5,150.3 v-4.5 M671.5,721.2 v4.5"/>
<path d="M685.8,150.3 v-4.5 M685.8,721.2 v4.5"/>
<path d="M700.1,150.3 v-4.5 M700.1,721.2 v4.5"/>
<path d="M714.3,150.3 v-4.5 M714.3,721.2 v4.5"/>
<path d="M728.6,150.3 v-4.5 M728.6,721.2 v4.5"/>
<path d="M742.9,150.3 v-4.5 M742.9,721.2 v4.5"/>
<path d="M757.2,150.3 v-8.5 M757.2,721.2 v8.5" stroke-width="1.3"/>
<path d="M771.4,150.3 v-4.5 M771.4,721.2 v4.5"/>
<path d="M785.7,150.3 v-4.5 M785.7,721.2 v4.5"/>
<path d="M800.0,150.3 v-4.5 M800.0,721.2 v4.5"/>
<path d="M814.3,150.3 v-4.5 M814.3,721.2 v4.5"/>
<path d="M828.6,150.3 v-4.5 M828.6,721.2 v4.5"/>
<path d="M842.8,150.3 v-4.5 M842.8,721.2 v4.5"/>
<path d="M857.1,150.3 v-4.5 M857.1,721.2 v4.5"/>
<path d="M871.4,150.3 v-4.5 M871.4,721.2 v4.5"/>
<path d="M885.7,150.3 v-4.5 M885.7,721.2 v4.5"/>
<path d="M899.9,150.3 v-8.5 M899.9,721.2 v8.5" stroke-width="1.3"/>
<path d="M100.4,721.4 h-8.5 M900.0,721.4 h8.5" stroke-width="1.3"/>
<path d="M100.4,707.1 h-4.5 M900.0,707.1 h4.5"/>
<path d="M100.4,692.8 h-4.5 M900.0,692.8 h4.5"/>
<path d="M100.4,678.6 h-4.5 M900.0,678.6 h4.5"/>
<path d="M100.4,664.3 h-4.5 M900.0,664.3 h4.5"/>
<path d="M100.4,650.0 h-4.5 M900.0,650.0 h4.5"/>
<path d="M100.4,635.7 h-4.5 M900.0,635.7 h4.5"/>
<path d="M100.4,621.5 h-4.5 M900.0,621.5 h4.5"/>
<path d="M100.4,607.2 h-4.5 M900.0,607.2 h4.5"/>
<path d="M100.4,592.9 h-4.5 M900.0,592.9 h4.5"/>
<path d="M100.4,578.6 h-8.5 M900.0,578.6 h8.5" stroke-width="1.3"/>
<path d="M100.4,564.3 h-4.5 M900.0,564.3 h4.5"/>
<path d="M100.4,550.1 h-4.5 M900.0,550.1 h4.5"/>
<path d="M100.4,535.8 h-4.5 M900.0,535.8 h4.5"/>
<path d="M100.4,521.5 h-4.5 M900.0,521.5 h4.5"/>
<path d="M100.4,507.2 h-4.5 M900.0,507.2 h4.5"/>
<path d="M100.4,493.0 h-4.5 M900.0,493.0 h4.5"/>
<path d="M100.4,478.7 h-4.5 M900.0,478.7 h4.5"/>
<path d="M100.4,464.4 h-4.5 M900.0,464.4 h4.5"/>
<path d="M100.4,450.1 h-4.5 M900.0,450.1 h4.5"/>
<path d="M100.4,435.9 h-8.5 M900.0,435.9 h8.5" stroke-width="1.3"/>
<path d="M100.4,421.6 h-4.5 M900.0,421.6 h4.5"/>
<path d="M100.4,407.3 h-4.5 M900.0,407.3 h4.5"/>
<path d="M100.4,393.0 h-4.5 M900.0,393.0 h4.5"/>
<path d="M100.4,378.7 h-4.5 M900.0,378.7 h4.5"/>
<path d="M100.4,364.5 h-4.5 M900.0,364.5 h4.5"/>
<path d="M100.4,350.2 h-4.5 M900.0,350.2 h4.5"/>
<path d="M100.4,335.9 h-4.5 M900.0,335.9 h4.5"/>
<path d="M100.4,321.6 h-4.5 M900.0,321.6 h4.5"/>
<path d="M100.4,307.4 h-4.5 M900.0,307.4 h4.5"/>
<path d="M100.4,293.1 h-8.5 M900.0,293.1 h8.5" stroke-width="1.3"/>
<path d="M100.4,278.8 h-4.5 M900.0,278.8 h4.5"/>
<path d="M100.4,264.5 h-4.5 M900.0,264.5 h4.5"/>
<path d="M100.4,250.2 h-4.5 M900.0,250.2 h4.5"/>
<path d="M100.4,236.0 h-4.5 M900.0,236.0 h4.5"/>
<path d="M100.4,221.7 h-4.5 M900.0,221.7 h4.5"/>
<path d="M100.4,207.4 h-4.5 M900.0,207.4 h4.5"/>
<path d="M100.4,193.1 h-4.5 M900.0,193.1 h4.5"/>
<path d="M100.4,178.9 h-4.5 M900.0,178.9 h4.5"/>
<path d="M100.4,164.6 h-4.5 M900.0,164.6 h4.5"/>
<path d="M100.4,150.3 h-8.5 M900.0,150.3 h8.5" stroke-width="1.3"/>
</g></g>
<g class="tk">
<text x="186.1" y="135.5" text-anchor="middle" class="tk">−89°15'</text>
<text x="186.1" y="744.5" text-anchor="middle" class="tk">−89°15'</text>
<text x="328.8" y="135.5" text-anchor="middle" class="tk">−89°00'</text>
<text x="328.8" y="744.5" text-anchor="middle" class="tk">−89°00'</text>
<text x="471.6" y="135.5" text-anchor="middle" class="tk">−88°45'</text>
<text x="471.6" y="744.5" text-anchor="middle" class="tk">−88°45'</text>
<text x="614.4" y="135.5" text-anchor="middle" class="tk">−88°30'</text>
<text x="614.4" y="744.5" text-anchor="middle" class="tk">−88°30'</text>
<text x="757.2" y="135.5" text-anchor="middle" class="tk">−88°15'</text>
<text x="757.2" y="744.5" text-anchor="middle" class="tk">−88°15'</text>
<text x="899.9" y="135.5" text-anchor="middle" class="tk">−88°00'</text>
<text x="899.9" y="744.5" text-anchor="middle" class="tk">−88°00'</text>
<text x="84.5" y="154.1" text-anchor="end" class="tk">30°30'</text>
<text x="915" y="154.1" text-anchor="start" class="tk">30°30'</text>
<text x="84.5" y="296.9" text-anchor="end" class="tk">30°15'</text>
<text x="915" y="296.9" text-anchor="start" class="tk">30°15'</text>
<text x="84.5" y="439.7" text-anchor="end" class="tk">30°00'</text>
<text x="915" y="439.7" text-anchor="start" class="tk">30°00'</text>
<text x="84.5" y="582.4" text-anchor="end" class="tk">29°45'</text>
<text x="915" y="582.4" text-anchor="start" class="tk">29°45'</text>
<text x="84.5" y="725.2" text-anchor="end" class="tk">29°30'</text>
<text x="915" y="725.2" text-anchor="start" class="tk">29°30'</text>
</g>
<text x="500.5" y="30.2" text-anchor="middle" class="b" font-size="19.5">University of Southern Mississippi Ocean Cube</text>
<text x="500.4" y="816.4" text-anchor="middle" class="b" font-size="19.5">University of Southern Mississippi Ocean Cube</text>
<text x="500" y="115" text-anchor="middle" class="t" font-size="18.2">Salinity at 26 Feet FORECAST valid Jun 11 2024 09:00Z</text>
<text x="899.8" y="110" text-anchor="end" class="t" font-size="14.3">USM Test Range, MS</text>
<circle cx="120.3" cy="44.9" r="6.4" fill="#fff" stroke="#000" stroke-width="1.9"/>
<path d="M113.95,59.9 L120,53.85 L126.05,59.9 L120,65.95Z" fill="#ffff0a" stroke="#000" stroke-width="1.9"/>
<text x="130.7" y="49.6" class="b" font-size="13.9">USM Instrumentation</text>
<text x="130.7" y="64.7" class="b" font-size="13.9">NDBC Station</text>
<rect x="547.1" y="40" width="347.9" height="39.8" fill="#fff" stroke="#000" stroke-width="2.1"/>
<text x="551.3" y="54.8" class="b" font-size="12.2" letter-spacing="0.27">1.00 kts</text>
<path d="M791.8,50.4 H880" stroke="#000" stroke-width="1" fill="none"/>
<path d="M892.8,50.4 L878.3,45.5 L878.3,55.3Z" fill="#000" stroke="#000" stroke-width="0.5" stroke-linejoin="round"/>
<text x="551.3" y="64.6" class="b" font-size="12.2" letter-spacing="0.27">2.00 kts</text>
<path d="M699.3,60.4 H880" stroke="#000" stroke-width="1" fill="none"/>
<path d="M892.8,60.4 L878.3,55.5 L878.3,65.3Z" fill="#000" stroke="#000" stroke-width="0.5" stroke-linejoin="round"/>
<text x="551.3" y="74.4" class="b" font-size="12.2" letter-spacing="0.27">3.00 kts</text>
<path d="M606.7,70.5 H880" stroke="#000" stroke-width="1" fill="none"/>
<path d="M892.8,70.5 L878.3,65.6 L878.3,75.4Z" fill="#000" stroke="#000" stroke-width="0.5" stroke-linejoin="round"/>
<text x="547.3" y="93.7" class="b" font-size="10.7" letter-spacing="0.2">CURRENTS Vectors</text>
<rect x="980" y="285.6" width="20.3" height="300" fill="url(#cbar)"/>
<path d="M980,285.6 V585.6 M1000.3,285.6 V585.6" stroke="#000" stroke-width="3" fill="none"/>
<path d="M978.5,285.6 H1001.8" stroke="#b4b4b4" stroke-width="1.6" fill="none"/>
<path d="M1001.8,285.6 H1008.5" stroke="#000" stroke-width="1" fill="none"/>
<text x="1035.8" y="289.6" text-anchor="end" font-size="10.8">37.0</text>
<path d="M978.5,315.6 H1001.8" stroke="#b4b4b4" stroke-width="1.6" fill="none"/>
<path d="M1001.8,315.6 H1008.5" stroke="#000" stroke-width="1" fill="none"/>
<text x="1035.8" y="319.6" text-anchor="end" font-size="10.8">33.3</text>
<path d="M978.5,345.6 H1001.8" stroke="#b4b4b4" stroke-width="1.6" fill="none"/>
<path d="M1001.8,345.6 H1008.5" stroke="#000" stroke-width="1" fill="none"/>
<text x="1035.8" y="349.6" text-anchor="end" font-size="10.8">29.6</text>
<path d="M978.5,375.6 H1001.8" stroke="#b4b4b4" stroke-width="1.6" fill="none"/>
<path d="M1001.8,375.6 H1008.5" stroke="#000" stroke-width="1" fill="none"/>
<text x="1035.8" y="379.6" text-anchor="end" font-size="10.8">25.9</text>
<path d="M978.5,405.6 H1001.8" stroke="#b4b4b4" stroke-width="1.6" fill="none"/>
<path d="M1001.8,405.6 H1008.5" stroke="#000" stroke-width="1" fill="none"/>
<text x="1035.8" y="409.6" text-anchor="end" font-size="10.8">22.2</text>
<path d="M978.5,435.6 H1001.8" stroke="#b4b4b4" stroke-width="1.6" fill="none"/>
<path d="M1001.8,435.6 H1008.5" stroke="#000" stroke-width="1" fill="none"/>
<text x="1035.8" y="439.6" text-anchor="end" font-size="10.8">18.5</text>
<path d="M978.5,465.6 H1001.8" stroke="#b4b4b4" stroke-width="1.6" fill="none"/>
<path d="M1001.8,465.6 H1008.5" stroke="#000" stroke-width="1" fill="none"/>
<text x="1035.8" y="469.6" text-anchor="end" font-size="10.8">14.8</text>
<path d="M978.5,495.6 H1001.8" stroke="#b4b4b4" stroke-width="1.6" fill="none"/>
<path d="M1001.8,495.6 H1008.5" stroke="#000" stroke-width="1" fill="none"/>
<text x="1035.8" y="499.6" text-anchor="end" font-size="10.8">11.1</text>
<path d="M978.5,525.6 H1001.8" stroke="#b4b4b4" stroke-width="1.6" fill="none"/>
<path d="M1001.8,525.6 H1008.5" stroke="#000" stroke-width="1" fill="none"/>
<text x="1035.8" y="529.6" text-anchor="end" font-size="10.8">7.4</text>
<path d="M978.5,555.6 H1001.8" stroke="#b4b4b4" stroke-width="1.6" fill="none"/>
<path d="M1001.8,555.6 H1008.5" stroke="#000" stroke-width="1" fill="none"/>
<text x="1035.8" y="559.6" text-anchor="end" font-size="10.8">3.7</text>
<path d="M978.5,585.6 H1001.8" stroke="#b4b4b4" stroke-width="1.6" fill="none"/>
<path d="M1001.8,585.6 H1008.5" stroke="#000" stroke-width="1" fill="none"/>
<text x="1035.8" y="589.6" text-anchor="end" font-size="10.8">0.0</text>
<text transform="translate(1055.5,435) rotate(-90)" text-anchor="middle" class="b" font-size="13.8">Salinity (psu)</text>
</svg></body></html>
